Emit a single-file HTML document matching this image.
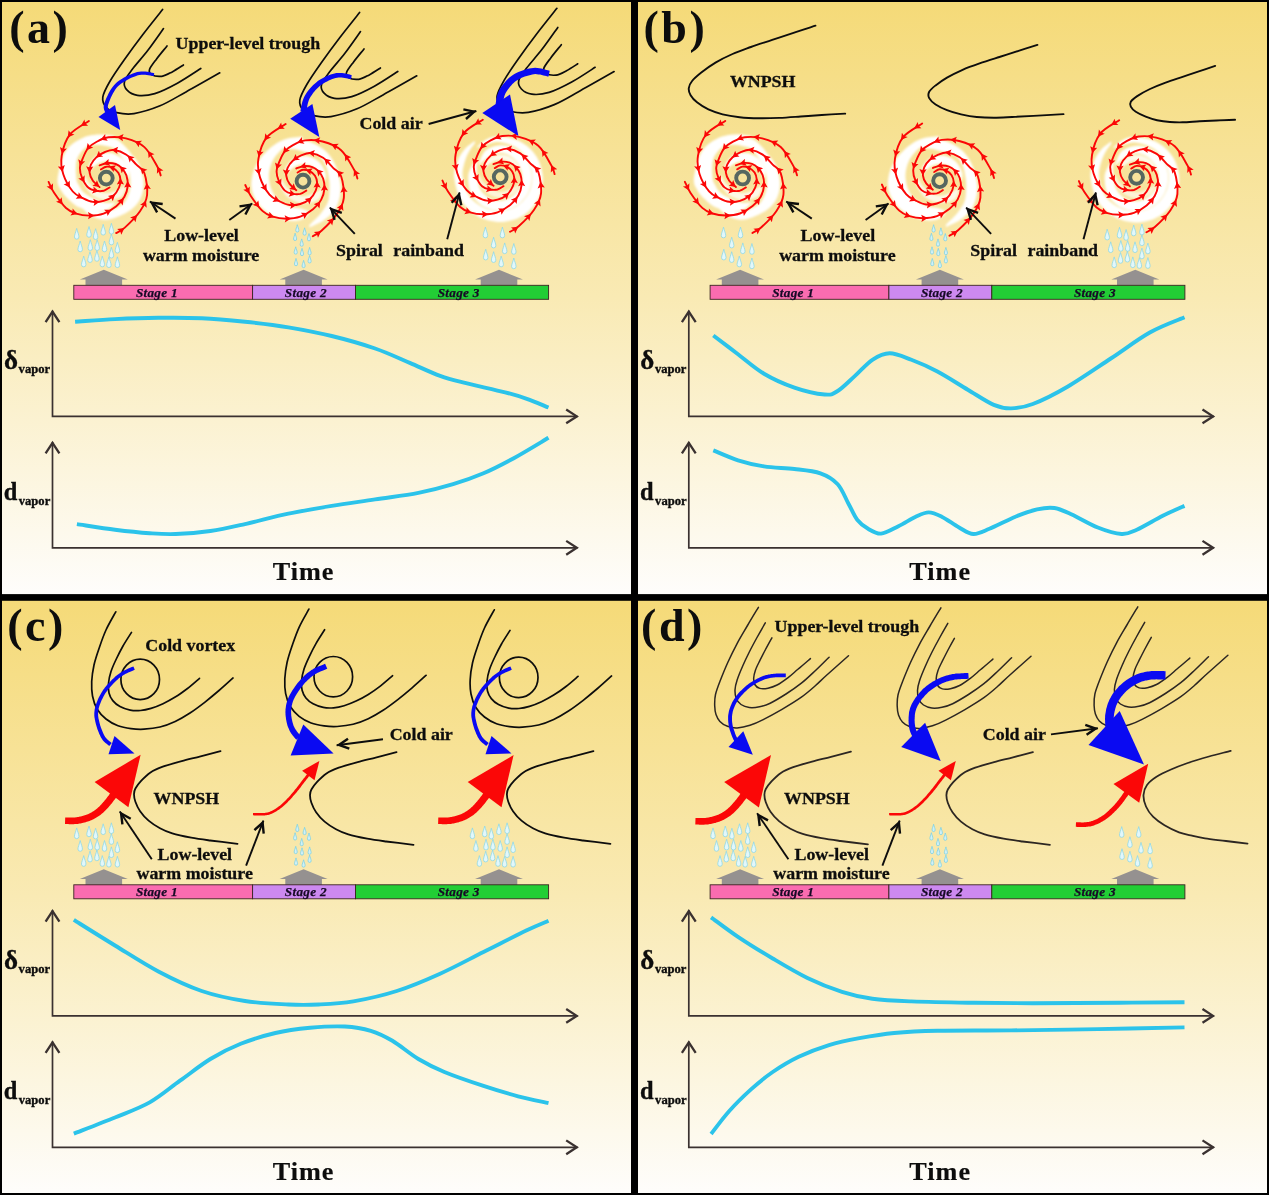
<!DOCTYPE html>
<html lang="en"><head><meta charset="utf-8"><title>Vapor isotope conceptual model</title>
<style>
html,body{margin:0;padding:0;background:#000;}
svg{display:block;font-family:'Liberation Serif',serif;font-weight:bold;}
</style></head><body>
<svg width="1269" height="1195" viewBox="0 0 1269 1195">
<defs>
<linearGradient id="bg" x1="0" y1="0" x2="0" y2="1"><stop offset="0" stop-color="#f5da78"/><stop offset="0.5" stop-color="#f9eab4"/><stop offset="1" stop-color="#fefdfb"/></linearGradient>
<filter id="soft" x="-20%" y="-20%" width="140%" height="140%"><feGaussianBlur stdDeviation="0.9"/></filter>
<path id="drop" d="M0,-8C0.8,-4.4 2.25,-1.6 2.25,0.5A2.25,2.25 0 1 1 -2.25,0.5C-2.25,-1.6 -0.8,-4.4 0,-8Z" fill="#e2f7fb" stroke="#8fd8e6" stroke-width="0.8"/>
<path id="dropS" d="M0,-5.4C0.55,-3 1.55,-1.1 1.55,0.4A1.55,1.55 0 1 1 -1.55,0.4C-1.55,-1.1 -0.55,-3 0,-5.4Z" fill="#d0f0f7" stroke="#7fd2e3" stroke-width="0.8"/>
<path id="house" d="M0,0L24,9.8H18.3V15.6H-18.3V9.8H-24Z" fill="#959190"/>
</defs>
<rect width="1269" height="1195" fill="#000"/>
<rect x="2" y="2" width="629" height="592.1" fill="url(#bg)"/>
<rect x="638" y="2" width="629" height="592.1" fill="url(#bg)"/>
<rect x="2" y="600.8" width="629" height="592.2" fill="url(#bg)"/>
<rect x="638" y="600.8" width="629" height="592.2" fill="url(#bg)"/>
<defs><g id="tyarms"><path d="M9.8,55C11.2,54.1 14.5,53.1 18.5,49.5C22.5,45.9 30,38.6 33.7,33.2C37.4,27.8 40.1,23.2 40.8,16.9C41.5,10.5 39.9,0.1 38.1,-4.9C36.3,-9.9 33.1,-10.3 30.1,-13.4C27.1,-16.5 23.8,-20.9 20.1,-23.4C16.4,-25.8 11.6,-27.7 8,-28.1C4.4,-28.6 1.7,-27.3 -1.3,-26.1C-4.3,-24.9 -7.7,-22.8 -10,-20.7C-12.3,-18.6 -14.3,-15.9 -15.4,-13.4C-16.5,-10.9 -17,-8.1 -16.7,-5.4C-16.4,-2.7 -15.1,0.3 -13.4,2.7C-11.7,5.1 -7.8,8 -6.7,9 M54.4,-2.7C53.9,-4.2 53.8,-6.7 51.1,-11.4C48.4,-16.1 43.4,-26.3 38.1,-31C32.9,-35.7 25.6,-38.1 19.6,-39.7C13.6,-41.3 7.1,-41.4 2.2,-40.8C-2.7,-40.2 -6.6,-37.9 -10,-36.1C-13.4,-34.3 -15.9,-32.8 -18.1,-30.1C-20.3,-27.4 -22,-23.5 -23.4,-20.1C-24.8,-16.8 -26.3,-13.3 -26.4,-10C-26.5,-6.7 -25.5,-3.2 -24.1,0C-22.7,3.2 -20.5,7.3 -18.1,9.4C-15.8,11.5 -12.6,12.1 -10,12.7C-7.4,13.2 -4.9,13.2 -2.7,12.7C-0.5,12.1 2.3,9.9 3.3,9.4 M-17.4,-57.1C-20.6,-54.8 -32,-49.3 -36.5,-43.5C-41,-37.7 -43.5,-28.9 -44.6,-22.3C-45.7,-15.7 -44.9,-9.8 -43,-3.8C-41.1,2.2 -36.8,9.4 -33.5,13.4C-30.2,17.4 -26.8,18.4 -23.4,20.1C-20,21.8 -16.9,23.4 -13.4,23.8C-10,24.2 -6.1,23.8 -2.7,22.8C0.6,21.9 4.1,20.3 6.7,18.1C9.3,15.9 11.5,12.2 12.7,9.4C13.9,6.6 14.2,3.8 14.1,1.3C14,-1.2 13.2,-3.5 12,-5.4C10.8,-7.3 8.7,-9 6.7,-10C4.7,-11 2,-11.6 0,-11.4C-2,-11.2 -4.5,-9.1 -5.4,-8.7 M-57.7,3.8C-56.8,5.6 -55.1,10.3 -52.2,14.7C-49.3,19 -44,26.4 -40.3,29.9C-36.6,33.4 -34,34.2 -30.1,35.5C-26.2,36.8 -21.3,37.5 -16.7,37.5C-12.1,37.5 -7.2,37.1 -2.7,35.5C1.8,33.9 6.5,30.9 10,28.1C13.5,25.3 16.2,22.1 18.1,18.7C20,15.3 21.1,11.6 21.4,8C21.7,4.4 21.1,0.3 20.1,-2.7C19.1,-5.7 17.2,-8.1 15.4,-10C13.6,-11.9 11.8,-13.2 9.4,-14.1C7.1,-14.9 4,-15.3 1.3,-15.1C-1.4,-14.9 -5.4,-13.1 -6.7,-12.7" fill="none" stroke="#fb0707" stroke-width="1.9" stroke-linecap="round"/><path d="M18.1,50 L15,56.6 L13.9,53.1 L10.8,50.8 ZM30.8,37 L29.2,44.2 L27.3,40.9 L23.8,39.4 ZM39.7,22.4 L40.4,29.7 L37.6,27.2 L33.8,26.8 ZM40.4,4.8 L44.6,10.8 L40.9,10.1 L37.4,11.6 ZM34.1,-10.6 L41.1,-8.4 L37.7,-6.8 L35.9,-3.5 ZM21.2,-22.8 L28.3,-20.9 L25,-19.1 L23.4,-15.7 ZM5.2,-28.4 L11.9,-31.3 L10.4,-27.9 L11.2,-24.2 ZM-10.3,-20.6 L-7.4,-27.3 L-6.1,-23.7 L-3.1,-21.5 ZM-16.9,-5.2 L-20.2,-11.8 L-16.7,-10.5 L-13,-11.5 ZM-6.7,9 L-13.9,7.7 L-10.8,5.6 L-9.4,2.1 Z M51,-11.7 L57.1,-7.5 L53.3,-7 L50.6,-4.4 ZM41.7,-27.1 L48.2,-23.9 L44.6,-22.8 L42.3,-19.8 ZM28.3,-36.9 L35.7,-37.4 L33.1,-34.6 L32.5,-30.9 ZM10.6,-41.2 L17.3,-44 L15.8,-40.6 L16.6,-36.9 ZM-5.8,-38.4 L-1.1,-44.1 L-0.9,-40.3 L1.5,-37.4 ZM-19.9,-27.9 L-18.7,-35.1 L-16.6,-32 L-13.1,-30.6 ZM-26.4,-11.7 L-28,-18.8 L-24.9,-16.7 L-21.1,-16.8 ZM-21.9,4.5 L-28,0.4 L-24.3,-0.2 L-21.6,-2.8 ZM-7.4,13.2 L-14.3,15.5 L-12.5,12.2 L-12.9,8.4 Z M-25.5,-52.2 L-21.9,-58.6 L-21,-54.9 L-18.2,-52.4 ZM-38.6,-40.6 L-37.7,-47.9 L-35.5,-44.8 L-31.9,-43.6 ZM-44.3,-24.1 L-46.4,-31.1 L-43.1,-29.2 L-39.4,-29.5 ZM-43.7,-6.1 L-48.5,-11.7 L-44.8,-11.3 L-41.5,-13.1 ZM-36.3,9.7 L-42.7,6.1 L-39,5.2 L-36.6,2.3 ZM-23.3,20.1 L-30.6,20.7 L-28.1,17.9 L-27.6,14.1 ZM-6.5,23.7 L-12.7,27.8 L-11.7,24.1 L-13.1,20.6 ZM8.8,16.2 L6.5,23.2 L4.9,19.7 L1.6,17.8 ZM14.1,0 L17.7,6.5 L14.1,5.3 L10.5,6.4 ZM2.6,-11.5 L9.8,-12.9 L7.6,-9.9 L7.5,-6.1 Z M-53.6,12.6 L-59.7,8.5 L-55.9,7.9 L-53.2,5.2 ZM-43.6,26.4 L-50.3,23.6 L-46.8,22.3 L-44.7,19.2 ZM-28.7,36 L-35.9,37.4 L-33.7,34.3 L-33.7,30.5 ZM-11.9,37.4 L-18.2,41.2 L-17.1,37.5 L-18.4,34 ZM5.1,31.7 L1.3,37.9 L0.5,34.2 L-2.2,31.6 ZM17.4,20 L16.4,27.3 L14.2,24.2 L10.7,23 ZM21.4,3 L25.1,9.4 L21.5,8.3 L17.9,9.5 ZM13.5,-11.9 L20.6,-9.8 L17.2,-8.1 L15.4,-4.8 ZM-3,-14.1 L2.3,-19.2 L2.1,-15.4 L4.1,-12.2 Z" fill="#fb0707" stroke="none"/><circle r="6.4" fill="none" stroke="#566760" stroke-width="3.9"/></g></defs>
<text x="9.2" y="42.5" font-size="46" fill="#0d0d0d" letter-spacing="2.5">(a)</text>
<use href="#drop" x="76.7" y="236.4"/>
<use href="#drop" x="89" y="234.5"/>
<use href="#drop" x="95.6" y="236.7"/>
<use href="#drop" x="103.2" y="232.3"/>
<use href="#drop" x="111.4" y="231.3"/>
<use href="#drop" x="111.4" y="242.1"/>
<use href="#drop" x="80.2" y="249"/>
<use href="#drop" x="90.3" y="247.7"/>
<use href="#drop" x="97.2" y="247.7"/>
<use href="#drop" x="104.5" y="249"/>
<use href="#drop" x="117.4" y="250.3"/>
<use href="#drop" x="111.4" y="255.3"/>
<use href="#drop" x="83.7" y="264.1"/>
<use href="#drop" x="90" y="259.7"/>
<use href="#drop" x="96.9" y="258.5"/>
<use href="#drop" x="102.3" y="264.1"/>
<use href="#drop" x="108.9" y="264.8"/>
<use href="#drop" x="117.4" y="264.8"/>
<use href="#house" x="103.8" y="269.8"/>
<use href="#dropS" x="297.3" y="230.1"/>
<use href="#dropS" x="304.6" y="233.2"/>
<use href="#dropS" x="309" y="238.9"/>
<use href="#dropS" x="295.1" y="238.6"/>
<use href="#dropS" x="301.7" y="244.3"/>
<use href="#dropS" x="295.7" y="252.2"/>
<use href="#dropS" x="302" y="253.7"/>
<use href="#dropS" x="309.6" y="252.8"/>
<use href="#dropS" x="309.6" y="261"/>
<use href="#dropS" x="296" y="263.8"/>
<use href="#dropS" x="303.6" y="265.7"/>
<use href="#house" x="303.6" y="269.8"/>
<use href="#drop" x="485.4" y="235.1"/>
<use href="#drop" x="502.4" y="235.1"/>
<use href="#drop" x="493.6" y="245.2"/>
<use href="#drop" x="504.7" y="250.9"/>
<use href="#drop" x="513.8" y="251.5"/>
<use href="#drop" x="485.7" y="257.2"/>
<use href="#drop" x="493.6" y="259.7"/>
<use href="#drop" x="501.2" y="264.1"/>
<use href="#drop" x="513.8" y="266"/>
<use href="#house" x="499" y="269.8"/>
<rect x="73.8" y="285.3" width="178.8" height="14" fill="#fa6cb0" stroke="#3a2420" stroke-width="0.9"/>
<text x="156.9" y="296.5" font-size="13.2" text-anchor="middle" font-style="italic" fill="#170a26" stroke="#170a26" stroke-width="0.25" letter-spacing="0.3">Stage 1</text>
<rect x="252.6" y="285.3" width="102.9" height="14" fill="#cd89f0" stroke="#3a2420" stroke-width="0.9"/>
<text x="305.8" y="296.5" font-size="13.2" text-anchor="middle" font-style="italic" fill="#170a26" stroke="#170a26" stroke-width="0.25" letter-spacing="0.3">Stage 2</text>
<rect x="355.5" y="285.3" width="193.1" height="14" fill="#22ce35" stroke="#3a2420" stroke-width="0.9"/>
<text x="458.7" y="296.5" font-size="13.2" text-anchor="middle" font-style="italic" fill="#170a26" stroke="#170a26" stroke-width="0.25" letter-spacing="0.3">Stage 3</text>
<path d="M52.5,310.7 V416.4 H577.5" fill="none" stroke="#3a3130" stroke-width="1.7"/>
<path d="M59.4,322.1 L52.5,311.5 L45.6,322.1" fill="none" stroke="#3a3130" stroke-width="2.3" stroke-linejoin="miter" stroke-linecap="butt"/>
<path d="M566.2,423.3 L576.8,416.4 L566.2,409.5" fill="none" stroke="#3a3130" stroke-width="2.3" stroke-linejoin="miter" stroke-linecap="butt"/>
<path d="M52.5,442 V547.8 H577.5" fill="none" stroke="#3a3130" stroke-width="1.7"/>
<path d="M59.4,453.4 L52.5,442.8 L45.6,453.4" fill="none" stroke="#3a3130" stroke-width="2.3" stroke-linejoin="miter" stroke-linecap="butt"/>
<path d="M566.2,554.7 L576.8,547.8 L566.2,540.9" fill="none" stroke="#3a3130" stroke-width="2.3" stroke-linejoin="miter" stroke-linecap="butt"/>
<text x="4" y="369" font-size="27" fill="#0d0d0d" stroke="#0d0d0d" stroke-width="0.35">δ<tspan font-size="12.6" dy="4.4" dx="0.6">vapor</tspan></text>
<text x="3.7" y="499.8" font-size="24.4" fill="#0d0d0d" stroke="#0d0d0d" stroke-width="0.35">d<tspan font-size="12.6" dy="4.8" dx="1.5">vapor</tspan></text>
<text x="303.5" y="580.3" font-size="26.2" text-anchor="middle" letter-spacing="1.0" fill="#0d0d0d" stroke="#0d0d0d" stroke-width="0.2">Time</text>
<path d="M162.6,9.5C159.3,13.7 149.2,26.2 142.7,34.7C136.2,43.2 129.1,52.9 123.6,60.7C118.1,68.5 113.3,75.4 109.8,81.5C106.3,87.6 103.4,92.8 102.8,97.1C102.2,101.4 104,104.9 106.3,107.5C108.6,110.1 112.1,111.7 116.7,112.7C121.3,113.7 126.8,114.8 134,113.6C141.2,112.4 151.3,109.4 160,105.8C168.7,102.2 176,97.4 186,91.9C196,86.4 214.2,76 219.8,72.8" fill="none" stroke="#0d0d0d" stroke-width="1.7" stroke-linecap="round"/>
<path d="M163.5,28.6C160.9,32.2 153.1,43.5 147.9,50.3C142.7,57.1 136.2,64.1 132.3,69.3C128.4,74.5 125.4,78 124.5,81.5C123.6,85 124.9,87.9 127.1,90.2C129.3,92.5 132.9,94.8 137.5,95.4C142.1,96 148.2,95.6 154.8,93.6C161.5,91.6 169.7,87.4 177.4,83.2C185.1,79 196.9,71 200.8,68.5" fill="none" stroke="#0d0d0d" stroke-width="1.7" stroke-linecap="round"/>
<path d="M167,45.9C165.3,48.1 159.5,55 156.6,58.9C153.7,62.8 150.5,66.7 149.6,69.3C148.7,71.9 149.4,73.3 151.4,74.5C153.4,75.7 158.3,76.7 161.8,76.3C165.3,75.9 168.6,73.8 172.2,71.9C175.8,70 181.5,66.2 183.4,65" fill="none" stroke="#0d0d0d" stroke-width="1.7" stroke-linecap="round"/>
<path d="M359.6,12.5C356.3,16.7 346.2,29.2 339.7,37.7C333.2,46.2 326.1,55.9 320.6,63.7C315.1,71.5 310.3,78.4 306.8,84.5C303.3,90.6 300.4,95.8 299.8,100.1C299.2,104.4 301,107.9 303.3,110.5C305.6,113.1 309.1,114.7 313.7,115.7C318.3,116.7 323.8,117.8 331,116.6C338.2,115.4 348.3,112.4 357,108.8C365.7,105.2 373,100.4 383,94.9C393,89.4 411.2,79 416.8,75.8" fill="none" stroke="#0d0d0d" stroke-width="1.7" stroke-linecap="round"/>
<path d="M360.5,31.6C357.9,35.2 350.1,46.5 344.9,53.3C339.7,60.1 333.2,67.1 329.3,72.3C325.4,77.5 322.4,81 321.5,84.5C320.6,88 321.9,90.9 324.1,93.2C326.3,95.5 329.9,97.8 334.5,98.4C339.1,99 345.2,98.6 351.8,96.6C358.4,94.6 366.7,90.4 374.4,86.2C382.1,82 393.9,74 397.8,71.5" fill="none" stroke="#0d0d0d" stroke-width="1.7" stroke-linecap="round"/>
<path d="M364,48.9C362.3,51.1 356.5,58 353.6,61.9C350.7,65.8 347.5,69.7 346.6,72.3C345.7,74.9 346.4,76.3 348.4,77.5C350.4,78.7 355.3,79.7 358.8,79.3C362.3,78.9 365.6,76.8 369.2,74.9C372.8,73 378.5,69.2 380.4,68" fill="none" stroke="#0d0d0d" stroke-width="1.7" stroke-linecap="round"/>
<path d="M556.9,8.3C553.6,12.5 543.5,25 537,33.5C530.5,42 523.4,51.7 517.9,59.5C512.4,67.3 507.6,74.2 504.1,80.3C500.6,86.4 497.7,91.6 497.1,95.9C496.5,100.2 498.3,103.7 500.6,106.3C502.9,108.9 506.4,110.5 511,111.5C515.6,112.5 521.1,113.5 528.3,112.4C535.5,111.2 545.6,108.2 554.3,104.6C563,101 570.3,96.2 580.3,90.7C590.3,85.2 608.5,74.8 614.1,71.6" fill="none" stroke="#0d0d0d" stroke-width="1.7" stroke-linecap="round"/>
<path d="M557.8,27.4C555.2,31 547.4,42.3 542.2,49.1C537,55.9 530.5,62.9 526.6,68.1C522.7,73.3 519.7,76.8 518.8,80.3C517.9,83.8 519.2,86.7 521.4,89C523.6,91.3 527.2,93.6 531.8,94.2C536.4,94.8 542.5,94.4 549.1,92.4C555.8,90.4 564,86.2 571.7,82C579.4,77.8 591.2,69.8 595.1,67.3" fill="none" stroke="#0d0d0d" stroke-width="1.7" stroke-linecap="round"/>
<path d="M561.3,44.7C559.6,46.9 553.8,53.8 550.9,57.7C548,61.6 544.8,65.5 543.9,68.1C543,70.7 543.7,72.1 545.7,73.3C547.7,74.5 552.6,75.5 556.1,75.1C559.6,74.7 562.9,72.6 566.5,70.7C570.1,68.8 575.8,65 577.7,63.8" fill="none" stroke="#0d0d0d" stroke-width="1.7" stroke-linecap="round"/>
<g transform="translate(106.3,178.1)">
<g filter="url(#soft)">
<path d="M8.9,-42.1 L7.7,-42.2 L6,-42.5 L3.9,-42.8 L1.7,-43.1 L-0.7,-43.4 L-3.1,-43.6 L-5.5,-43.7 L-7.7,-43.6 L-9.8,-43.5 L-12,-43.2 L-14.1,-43 L-16.3,-42.6 L-18.4,-42.1 L-20.6,-41.5 L-22.7,-40.7 L-24.8,-39.7 L-26.9,-38.6 L-29.1,-37.4 L-31.3,-36 L-33.4,-34.5 L-35.5,-32.8 L-37.4,-31 L-39.2,-28.9 L-40.8,-26.5 L-42.3,-23.7 L-43.6,-20.5 L-44.9,-16.9 L-46,-13.2 L-46.9,-9.5 L-47.7,-5.9 L-48.3,-2.7 L-48.7,0 L-48.8,2.2 L-48.7,4.1 L-48.4,5.7 L-48,7.1 L-47.4,8.4 L-46.7,9.6 L-46,10.8 L-45.3,12.1 L-44.6,13.5 L-43.7,14.7 L-42.9,15.9 L-41.9,17.1 L-40.9,18.2 L-39.8,19.4 L-38.6,20.5 L-37.4,21.6 L-36.2,22.7 L-34.9,23.9 L-33.6,25.1 L-32.2,26.2 L-30.7,27.3 L-29.1,28.3 L-27.2,29.2 L-25.2,30 L-22.8,30.7 L-20.1,31.4 L-17.1,32 L-14,32.5 L-10.9,32.8 L-8,33.1 L-5.2,33.1 L-2.9,32.9 L-0.8,32.3 L1.1,31.5 L2.9,30.3 L4.5,29.1 L5.9,27.8 L7.2,26.6 L8.2,25.6 L9.1,24.9 L8.9,24.4 L8.1,24.5 L7,24.6 L5.7,24.7 L4.2,24.8 L2.7,24.9 L1.1,24.9 L-0.6,24.8 L-2.1,24.5 L-3.8,24.1 L-5.5,23.5 L-7.3,22.8 L-9.2,22 L-11,21.2 L-12.8,20.4 L-14.4,19.6 L-15.8,18.8 L-17.1,18.2 L-18.2,17.5 L-19.3,16.9 L-20.2,16.2 L-21.1,15.6 L-21.9,14.9 L-22.7,14.2 L-23.4,13.5 L-24.1,12.8 L-24.7,12 L-25.2,11.3 L-25.7,10.5 L-26.1,9.8 L-26.5,9 L-26.9,8.2 L-27.3,7.3 L-27.8,6.5 L-28.2,5.8 L-28.6,5.2 L-29,4.5 L-29.3,3.7 L-29.6,2.7 L-29.8,1.5 L-30,0 L-30.1,-1.9 L-30.3,-4.1 L-30.4,-6.6 L-30.4,-9.2 L-30.3,-11.9 L-30.2,-14.4 L-29.8,-16.9 L-29.3,-19 L-28.5,-20.9 L-27.6,-22.7 L-26.4,-24.4 L-25.2,-26 L-23.9,-27.5 L-22.5,-28.9 L-21,-30.2 L-19.6,-31.4 L-18.2,-32.4 L-16.6,-33.3 L-15.1,-34.1 L-13.4,-34.7 L-11.8,-35.4 L-10.1,-35.9 L-8.3,-36.5 L-6.5,-37.1 L-4.6,-37.8 L-2.5,-38.4 L-0.3,-39.1 L2,-39.7 L4.1,-40.3 L6,-40.8 L7.6,-41.2 L8.8,-41.6Z" fill="#fff"/>
<path d="M-17.8,-33.6 L-17.3,-34 L-16.6,-34.6 L-15.7,-35.3 L-14.7,-36 L-13.7,-36.8 L-12.6,-37.5 L-11.5,-38.2 L-10.4,-38.6 L-9.2,-39 L-8,-39.3 L-6.7,-39.5 L-5.4,-39.6 L-4,-39.7 L-2.7,-39.8 L-1.3,-39.8 L0,-39.8 L1.3,-39.8 L2.6,-39.8 L4,-39.8 L5.3,-39.7 L6.6,-39.6 L7.9,-39.4 L9.2,-39.1 L10.4,-38.6 L11.5,-38.1 L12.6,-37.4 L13.7,-36.6 L14.7,-35.7 L15.7,-34.8 L16.7,-33.9 L17.6,-32.9 L18.5,-32 L19.3,-31.2 L20.1,-30.4 L20.8,-29.5 L21.5,-28.7 L22.2,-27.8 L22.9,-26.8 L23.7,-25.8 L24.6,-24.6 L25.6,-23.3 L26.7,-22 L27.9,-20.6 L29.2,-19.1 L30.4,-17.5 L31.5,-15.8 L32.6,-14.1 L33.5,-12.2 L34.2,-10.1 L35,-7.9 L35.6,-5.5 L36.2,-3 L36.7,-0.6 L37.1,1.9 L37.3,4.3 L37.3,6.6 L37.2,8.8 L37,10.9 L36.6,13.1 L36.1,15.2 L35.4,17.3 L34.7,19.2 L33.8,21.1 L32.8,22.9 L31.6,24.7 L30.3,26.3 L28.9,27.9 L27.3,29.4 L25.7,30.8 L23.9,32.2 L22,33.4 L20,34.6 L17.8,35.8 L15.4,37 L12.8,38.1 L10.2,39.2 L7.5,40.1 L4.9,40.9 L2.3,41.4 L0,41.7 L-2.2,41.7 L-4.4,41.5 L-6.5,41 L-8.5,40.4 L-10.5,39.7 L-12.4,38.9 L-14.1,38 L-15.8,37.2 L-17.4,36.2 L-18.9,35.1 L-20.3,33.8 L-21.7,32.5 L-22.9,31.2 L-23.9,30.1 L-24.8,29.1 L-25.6,28.4 L-25.1,27.9 L-24.2,28.2 L-23.1,28.7 L-21.7,29.2 L-20.2,29.8 L-18.5,30.4 L-16.9,31 L-15.2,31.5 L-13.6,31.9 L-12,32.3 L-10.4,32.7 L-8.7,33.1 L-7,33.5 L-5.3,33.8 L-3.6,33.9 L-1.8,33.9 L0,33.7 L1.9,33.3 L3.9,32.7 L6,31.9 L8.2,31.1 L10.2,30.1 L12.2,29.1 L14,28 L15.5,26.8 L16.8,25.7 L18,24.4 L19,23 L19.9,21.6 L20.7,20.1 L21.4,18.7 L22,17.2 L22.5,15.8 L23,14.4 L23.4,12.9 L23.7,11.5 L23.9,10.1 L24,8.7 L24.1,7.2 L24.1,5.7 L24.1,4.3 L24.1,2.7 L24,1.1 L23.9,-0.5 L23.7,-2.1 L23.5,-3.7 L23.3,-5.3 L22.9,-6.8 L22.6,-8.2 L22.1,-9.6 L21.5,-10.9 L20.9,-12.1 L20.3,-13.4 L19.6,-14.5 L18.9,-15.6 L18.3,-16.7 L17.7,-17.7 L17.1,-18.6 L16.6,-19.4 L16.1,-20.1 L15.6,-20.7 L15.1,-21.4 L14.6,-22 L14.1,-22.7 L13.5,-23.4 L12.9,-24.1 L12.3,-25 L11.6,-25.8 L10.9,-26.6 L10.2,-27.4 L9.5,-28.2 L8.7,-28.9 L7.9,-29.5 L7,-30 L6.1,-30.4 L5.1,-30.7 L4.2,-31 L3.1,-31.3 L2.1,-31.5 L1.1,-31.8 L0,-32 L-1.1,-32.2 L-2.2,-32.5 L-3.3,-32.7 L-4.4,-32.9 L-5.6,-33 L-6.7,-33.2 L-7.8,-33.3 L-8.9,-33.3 L-10.1,-33.3 L-11.3,-33.3 L-12.5,-33.2 L-13.7,-33.1 L-14.8,-33 L-15.9,-32.8 L-16.7,-32.7 L-17.4,-32.7Z" fill="#fff"/>
<path d="M-17.4,-6.3 L-17.4,-6.9 L-17.5,-7.7 L-17.6,-8.6 L-17.6,-9.7 L-17.7,-10.8 L-17.6,-11.9 L-17.3,-13.1 L-16.9,-14.1 L-16.2,-15.2 L-15.4,-16.4 L-14.4,-17.7 L-13.4,-18.9 L-12.2,-20.1 L-11,-21.3 L-9.7,-22.2 L-8.4,-23 L-7,-23.7 L-5.5,-24.2 L-3.8,-24.7 L-2.2,-25 L-0.5,-25.2 L1.2,-25.3 L2.9,-25.3 L4.4,-25.1 L6,-24.8 L7.5,-24.3 L9.1,-23.7 L10.6,-22.9 L12.1,-22.1 L13.5,-21.2 L14.9,-20.2 L16.1,-19.2 L17.2,-18 L18.2,-16.7 L19.2,-15.3 L20.1,-13.8 L20.9,-12.3 L21.5,-10.9 L22.1,-9.5 L22.6,-8.2 L22.8,-7 L22.9,-5.8 L22.8,-4.6 L22.7,-3.4 L22.5,-2.4 L22.3,-1.4 L22.1,-0.6 L22,0 L21,0 L20.8,-0.5 L20.5,-1.2 L20.2,-1.9 L19.8,-2.8 L19.4,-3.7 L19,-4.7 L18.4,-5.6 L17.9,-6.5 L17.2,-7.4 L16.5,-8.3 L15.7,-9.2 L14.9,-10.1 L14,-11.1 L13.1,-11.9 L12.2,-12.7 L11.2,-13.4 L10.3,-14 L9.3,-14.6 L8.3,-15.1 L7.2,-15.6 L6.2,-16 L5.1,-16.3 L4,-16.6 L3,-16.7 L1.9,-16.8 L0.8,-16.8 L-0.3,-16.8 L-1.4,-16.6 L-2.5,-16.4 L-3.6,-16.2 L-4.6,-15.9 L-5.6,-15.5 L-6.6,-15.1 L-7.7,-14.6 L-8.7,-14 L-9.6,-13.4 L-10.6,-12.8 L-11.5,-12.2 L-12.3,-11.5 L-13,-10.9 L-13.7,-10.3 L-14.3,-9.6 L-14.9,-8.9 L-15.4,-8.3 L-15.9,-7.6 L-16.3,-7 L-16.6,-6.5 L-16.9,-6.2Z" fill="#fff"/>
<path d="M19.7,7.2 L19.5,8.1 L19.2,9.4 L18.9,10.9 L18.5,12.6 L18,14.2 L17.4,15.9 L16.5,17.3 L15.4,18.4 L14,19.3 L12.3,20 L10.4,20.7 L8.3,21.2 L6.2,21.6 L4,21.9 L1.9,22 L0,22 L-1.9,21.8 L-3.8,21.5 L-5.7,21 L-7.5,20.3 L-9.3,19.6 L-11.1,18.7 L-12.7,17.8 L-14.1,16.9 L-15.5,15.7 L-16.8,14.5 L-17.9,13.1 L-19,11.6 L-20,10.1 L-20.9,8.6 L-21.6,7.2 L-22.2,6 L-22.7,4.8 L-22.9,3.6 L-23,2.4 L-23.1,1.3 L-23,0.3 L-23,-0.6 L-22.9,-1.4 L-22.9,-2 L-20.9,-1.8 L-20.7,-1.3 L-20.4,-0.7 L-20,0.1 L-19.6,1 L-19.2,1.9 L-18.6,2.9 L-18.1,3.8 L-17.4,4.7 L-16.6,5.5 L-15.8,6.4 L-14.9,7.3 L-13.9,8.3 L-12.9,9.2 L-11.8,10 L-10.7,10.8 L-9.6,11.5 L-8.5,12.1 L-7.4,12.7 L-6.2,13.3 L-5,13.8 L-3.7,14.3 L-2.5,14.6 L-1.2,14.9 L0,15 L1.3,15 L2.6,14.8 L3.9,14.5 L5.2,14.2 L6.5,13.7 L7.8,13.3 L9.1,12.8 L10.3,12.3 L11.5,11.7 L12.8,11 L14.1,10.2 L15.4,9.5 L16.6,8.7 L17.7,8 L18.6,7.4 L19.3,7Z" fill="#fff" fill-opacity="0.75"/>
</g>
<use href="#tyarms"/>
</g>
<g transform="translate(303,181.2)">
<g filter="url(#soft)">
<path d="M-0.8,-44.6 L-2.2,-44.4 L-4.2,-44.2 L-6.5,-44 L-9,-43.8 L-11.7,-43.4 L-14.4,-42.9 L-17,-42.3 L-19.4,-41.5 L-21.6,-40.5 L-23.8,-39.4 L-26,-38.1 L-28.1,-36.7 L-30.3,-35.2 L-32.3,-33.6 L-34.2,-32 L-36.1,-30.3 L-37.8,-28.5 L-39.6,-26.6 L-41.2,-24.7 L-42.8,-22.6 L-44.2,-20.5 L-45.6,-18.4 L-46.8,-16.3 L-47.8,-14.2 L-48.8,-12 L-49.6,-9.8 L-50.3,-7.6 L-50.8,-5.3 L-51.2,-3 L-51.5,-0.8 L-51.7,1.5 L-51.7,3.6 L-51.5,5.7 L-51.2,7.9 L-50.8,10 L-50.2,12 L-49.5,14.1 L-48.7,16 L-47.7,18 L-46.7,19.8 L-45.5,21.6 L-44.1,23.4 L-42.6,25.1 L-41,26.8 L-39.2,28.4 L-37.5,29.9 L-35.6,31.3 L-33.7,32.6 L-31.8,33.7 L-29.6,34.8 L-27.4,35.7 L-25.2,36.6 L-22.9,37.4 L-20.7,38 L-18.5,38.6 L-16.6,39 L-14.7,39.4 L-12.9,39.6 L-11.1,39.7 L-9.5,39.8 L-7.9,39.7 L-6.3,39.6 L-4.8,39.3 L-3.4,39.1 L-2.1,38.6 L-0.7,38 L0.6,37.2 L1.8,36.4 L2.9,35.6 L3.9,34.9 L4.7,34.2 L5.4,33.8 L4.7,29.6 L4.2,29.4 L3.5,29.2 L2.6,28.9 L1.7,28.5 L0.7,28.2 L-0.3,27.9 L-1.4,27.6 L-2.4,27.3 L-3.4,27.1 L-4.4,27 L-5.4,26.9 L-6.5,26.8 L-7.6,26.7 L-8.7,26.6 L-9.9,26.4 L-11.1,26.1 L-12.3,25.6 L-13.7,25.1 L-15.1,24.6 L-16.5,24 L-17.9,23.3 L-19.3,22.6 L-20.6,21.9 L-21.8,21 L-22.9,20.2 L-24,19.2 L-25.1,18.2 L-26.1,17.1 L-27,16 L-27.9,14.8 L-28.7,13.7 L-29.5,12.5 L-30.1,11.3 L-30.8,10.1 L-31.3,8.9 L-31.8,7.7 L-32.3,6.4 L-32.7,5.1 L-33,3.7 L-33.3,2.3 L-33.6,0.9 L-33.8,-0.6 L-34,-2.1 L-34.1,-3.6 L-34.1,-5.2 L-34.1,-6.7 L-33.9,-8.3 L-33.7,-10 L-33.3,-11.6 L-32.9,-13.4 L-32.4,-15.1 L-31.8,-16.9 L-31.1,-18.7 L-30.3,-20.5 L-29.4,-22.2 L-28.3,-23.8 L-27.2,-25.4 L-25.9,-27 L-24.5,-28.5 L-23,-30.1 L-21.5,-31.5 L-19.8,-32.9 L-18.2,-34.1 L-16.4,-35.3 L-14.5,-36.2 L-12.4,-37.1 L-10.1,-37.9 L-7.8,-38.5 L-5.6,-39.1 L-3.6,-39.6 L-1.9,-40 L-0.7,-40.4Z" fill="#fff"/>
<path d="M-19.2,-33.3 L-18.6,-33.8 L-17.8,-34.5 L-16.8,-35.3 L-15.7,-36.1 L-14.4,-37 L-13.2,-37.8 L-11.8,-38.6 L-10.5,-39.1 L-9.1,-39.6 L-7.7,-40.1 L-6.2,-40.5 L-4.7,-40.8 L-3.1,-41.1 L-1.4,-41.2 L0.3,-41.1 L2.1,-40.8 L4.1,-40.3 L6.2,-39.6 L8.4,-38.7 L10.7,-37.7 L12.9,-36.6 L15.1,-35.4 L17.2,-34.1 L19,-32.9 L20.7,-31.7 L22.2,-30.4 L23.6,-29.1 L25,-27.7 L26.2,-26.3 L27.4,-24.8 L28.5,-23.2 L29.6,-21.5 L30.6,-19.7 L31.6,-17.7 L32.5,-15.7 L33.3,-13.6 L34.1,-11.4 L34.8,-9.2 L35.4,-7.1 L35.9,-5.1 L36.4,-3 L36.8,-1.1 L37.2,0.9 L37.5,2.9 L37.7,4.8 L37.8,6.8 L37.7,8.8 L37.6,10.8 L37.3,12.8 L37,15 L36.5,17.1 L35.9,19.3 L35.2,21.4 L34.4,23.5 L33.6,25.5 L32.6,27.3 L31.4,29.1 L30.1,30.7 L28.8,32.3 L27.3,33.8 L25.7,35.2 L24.1,36.6 L22.4,37.9 L20.8,39.1 L19,40.3 L17.1,41.4 L15,42.4 L12.9,43.4 L10.9,44.3 L9.1,45.1 L7.6,45.7 L6.5,46.2 L6.2,44.1 L7.1,43.2 L8.3,42 L9.7,40.6 L11.3,39.1 L13,37.5 L14.6,35.8 L16.1,34.2 L17.4,32.7 L18.5,31.2 L19.6,29.8 L20.7,28.3 L21.7,26.9 L22.7,25.4 L23.5,23.9 L24.3,22.4 L24.9,20.9 L25.4,19.3 L25.8,17.6 L26,15.9 L26.2,14.2 L26.3,12.5 L26.4,10.8 L26.5,9.2 L26.5,7.6 L26.6,6.1 L26.6,4.7 L26.6,3.3 L26.5,2 L26.4,0.6 L26.3,-0.8 L26.1,-2.2 L25.8,-3.6 L25.6,-5.2 L25.3,-6.8 L25,-8.4 L24.6,-10.1 L24.2,-11.7 L23.7,-13.4 L23.1,-14.9 L22.5,-16.3 L21.8,-17.7 L21,-19.1 L20.2,-20.4 L19.3,-21.7 L18.4,-22.9 L17.3,-24 L16.2,-25 L15,-25.9 L13.5,-26.6 L11.9,-27.2 L10.2,-27.7 L8.4,-28.1 L6.6,-28.4 L4.8,-28.7 L3.1,-29 L1.5,-29.4 L0.1,-29.7 L-1.2,-30.1 L-2.5,-30.5 L-3.7,-30.8 L-4.9,-31.1 L-6.1,-31.4 L-7.3,-31.7 L-8.5,-31.9 L-9.9,-32 L-11.3,-32.2 L-12.8,-32.3 L-14.3,-32.3 L-15.7,-32.4 L-16.9,-32.4 L-18,-32.4 L-18.7,-32.5Z" fill="#fff"/>
<path d="M-17.4,-6.3 L-17.4,-6.9 L-17.5,-7.7 L-17.6,-8.6 L-17.6,-9.7 L-17.7,-10.8 L-17.6,-11.9 L-17.3,-13.1 L-16.9,-14.1 L-16.2,-15.2 L-15.4,-16.4 L-14.4,-17.7 L-13.4,-18.9 L-12.2,-20.1 L-11,-21.3 L-9.7,-22.2 L-8.4,-23 L-7,-23.7 L-5.5,-24.2 L-3.8,-24.7 L-2.2,-25 L-0.5,-25.2 L1.2,-25.3 L2.9,-25.3 L4.4,-25.1 L6,-24.8 L7.5,-24.3 L9.1,-23.7 L10.6,-22.9 L12.1,-22.1 L13.5,-21.2 L14.9,-20.2 L16.1,-19.2 L17.2,-18 L18.2,-16.7 L19.2,-15.3 L20.1,-13.8 L20.9,-12.3 L21.5,-10.9 L22.1,-9.5 L22.6,-8.2 L22.8,-7 L22.9,-5.8 L22.8,-4.6 L22.7,-3.4 L22.5,-2.4 L22.3,-1.4 L22.1,-0.6 L22,0 L21,0 L20.8,-0.5 L20.5,-1.2 L20.2,-1.9 L19.8,-2.8 L19.4,-3.7 L19,-4.7 L18.4,-5.6 L17.9,-6.5 L17.2,-7.4 L16.5,-8.3 L15.7,-9.2 L14.9,-10.1 L14,-11.1 L13.1,-11.9 L12.2,-12.7 L11.2,-13.4 L10.3,-14 L9.3,-14.6 L8.3,-15.1 L7.2,-15.6 L6.2,-16 L5.1,-16.3 L4,-16.6 L3,-16.7 L1.9,-16.8 L0.8,-16.8 L-0.3,-16.8 L-1.4,-16.6 L-2.5,-16.4 L-3.6,-16.2 L-4.6,-15.9 L-5.6,-15.5 L-6.6,-15.1 L-7.7,-14.6 L-8.7,-14 L-9.6,-13.4 L-10.6,-12.8 L-11.5,-12.2 L-12.3,-11.5 L-13,-10.9 L-13.7,-10.3 L-14.3,-9.6 L-14.9,-8.9 L-15.4,-8.3 L-15.9,-7.6 L-16.3,-7 L-16.6,-6.5 L-16.9,-6.2Z" fill="#fff"/>
<path d="M19.7,7.2 L19.5,8.1 L19.2,9.4 L18.9,10.9 L18.5,12.6 L18,14.2 L17.4,15.9 L16.5,17.3 L15.4,18.4 L14,19.3 L12.3,20 L10.4,20.7 L8.3,21.2 L6.2,21.6 L4,21.9 L1.9,22 L0,22 L-1.9,21.8 L-3.8,21.5 L-5.7,21 L-7.5,20.3 L-9.3,19.6 L-11.1,18.7 L-12.7,17.8 L-14.1,16.9 L-15.5,15.7 L-16.8,14.5 L-17.9,13.1 L-19,11.6 L-20,10.1 L-20.9,8.6 L-21.6,7.2 L-22.2,6 L-22.7,4.8 L-22.9,3.6 L-23,2.4 L-23.1,1.3 L-23,0.3 L-23,-0.6 L-22.9,-1.4 L-22.9,-2 L-20.9,-1.8 L-20.7,-1.3 L-20.4,-0.7 L-20,0.1 L-19.6,1 L-19.2,1.9 L-18.6,2.9 L-18.1,3.8 L-17.4,4.7 L-16.6,5.5 L-15.8,6.4 L-14.9,7.3 L-13.9,8.3 L-12.9,9.2 L-11.8,10 L-10.7,10.8 L-9.6,11.5 L-8.5,12.1 L-7.4,12.7 L-6.2,13.3 L-5,13.8 L-3.7,14.3 L-2.5,14.6 L-1.2,14.9 L0,15 L1.3,15 L2.6,14.8 L3.9,14.5 L5.2,14.2 L6.5,13.7 L7.8,13.3 L9.1,12.8 L10.3,12.3 L11.5,11.7 L12.8,11 L14.1,10.2 L15.4,9.5 L16.6,8.7 L17.7,8 L18.6,7.4 L19.3,7Z" fill="#fff" fill-opacity="0.75"/>
</g>
<use href="#tyarms"/>
</g>
<g transform="translate(500.2,176.8)">
<g filter="url(#soft)">
<path d="M-23.4,-29.9 L-22.6,-30.6 L-21.4,-31.5 L-20.1,-32.6 L-18.7,-33.9 L-17.1,-35.1 L-15.5,-36.2 L-13.9,-37.3 L-12.4,-38 L-10.9,-38.7 L-9.5,-39.2 L-8.2,-39.6 L-6.8,-40 L-5.3,-40.3 L-3.7,-40.4 L-1.9,-40.4 L0,-40.3 L2.2,-40.1 L4.6,-39.7 L7.2,-39.3 L9.9,-38.7 L12.6,-38 L15.3,-37.2 L17.9,-36.2 L20.3,-35.1 L22.5,-33.8 L24.7,-32.3 L26.9,-30.7 L29,-28.9 L30.9,-27 L32.8,-25 L34.4,-22.9 L35.9,-20.7 L37.3,-18.5 L38.5,-16 L39.6,-13.5 L40.5,-10.9 L41.2,-8.2 L41.8,-5.4 L42.3,-2.7 L42.5,0 L42.6,2.7 L42.4,5.5 L42.1,8.4 L41.7,11.2 L41.1,14.1 L40.2,16.8 L39.3,19.5 L38.1,22 L36.7,24.4 L35.2,26.8 L33.4,29.2 L31.4,31.5 L29.3,33.6 L27.1,35.6 L24.9,37.4 L22.5,39 L20,40.3 L17.4,41.6 L14.6,42.6 L11.7,43.5 L8.8,44.2 L5.8,44.8 L2.9,45.1 L0,45.2 L-2.9,45.1 L-5.8,44.8 L-8.7,44.3 L-11.7,43.6 L-14.6,42.8 L-17.4,41.7 L-20.1,40.6 L-22.6,39.2 L-25.1,37.7 L-27.5,36 L-29.8,34.1 L-32,32 L-34.1,29.9 L-36.1,27.6 L-37.8,25.2 L-39.4,22.7 L-40.8,20.2 L-42,17.3 L-43,14.4 L-43.9,11.3 L-44.7,8.3 L-45.3,5.3 L-45.7,2.5 L-46,0 L-46.1,-2.3 L-46,-4.5 L-45.7,-6.5 L-45.3,-8.5 L-44.8,-10.3 L-44.2,-12.1 L-43.5,-13.9 L-42.8,-15.6 L-42.1,-17.3 L-41.4,-19 L-40.5,-20.6 L-39.6,-22.1 L-38.6,-23.6 L-37.6,-25.1 L-36.5,-26.4 L-35.5,-27.7 L-34.3,-28.9 L-33,-30.2 L-31.6,-31.3 L-30.2,-32.4 L-28.9,-33.4 L-27.6,-34.3 L-26.6,-35 L-25.9,-35.6 L-24.9,-34.2 L-25.4,-33.5 L-26.1,-32.5 L-27,-31.4 L-27.9,-30.1 L-28.9,-28.8 L-29.9,-27.4 L-30.7,-26 L-31.5,-24.6 L-32.2,-23.3 L-32.9,-21.9 L-33.5,-20.5 L-34.1,-19.1 L-34.6,-17.6 L-35.1,-16.1 L-35.6,-14.6 L-36,-13.1 L-36.4,-11.6 L-36.7,-10.1 L-37.1,-8.5 L-37.4,-7 L-37.6,-5.4 L-37.7,-3.7 L-37.7,-1.9 L-37.5,0 L-37.2,2.1 L-36.7,4.3 L-36.2,6.7 L-35.5,9.2 L-34.7,11.6 L-33.8,14 L-32.8,16.2 L-31.6,18.2 L-30.3,20.1 L-28.7,21.9 L-27.1,23.6 L-25.3,25.2 L-23.4,26.7 L-21.5,28 L-19.5,29.2 L-17.5,30.3 L-15.5,31.2 L-13.3,32.1 L-11.2,32.8 L-8.9,33.3 L-6.7,33.8 L-4.4,34.1 L-2.2,34.2 L0,34.2 L2.2,34 L4.4,33.7 L6.6,33.3 L8.8,32.7 L10.9,32 L13,31.1 L15,30.2 L16.8,29.1 L18.6,27.9 L20.2,26.5 L21.9,25.1 L23.4,23.5 L24.9,21.8 L26.2,20 L27.4,18.2 L28.4,16.4 L29.3,14.5 L30.1,12.6 L30.8,10.5 L31.3,8.4 L31.7,6.3 L32,4.2 L32.2,2.1 L32.2,0 L32.1,-2.1 L31.9,-4.1 L31.5,-6.2 L31,-8.3 L30.4,-10.4 L29.7,-12.4 L28.9,-14.3 L28,-16.1 L26.9,-17.9 L25.8,-19.7 L24.5,-21.5 L23.1,-23.1 L21.6,-24.7 L20,-26.2 L18.4,-27.6 L16.7,-28.8 L14.8,-29.9 L12.7,-30.9 L10.5,-31.8 L8.3,-32.5 L6.1,-33.2 L3.9,-33.7 L1.8,-34.2 L0,-34.5 L-1.6,-34.7 L-3.1,-34.7 L-4.4,-34.7 L-5.7,-34.5 L-6.9,-34.3 L-8.2,-34 L-9.4,-33.6 L-10.8,-33.3 L-12.3,-32.9 L-14,-32.4 L-15.7,-31.8 L-17.5,-31.1 L-19.1,-30.5 L-20.6,-30 L-21.8,-29.5 L-22.8,-29.2Z" fill="#fff"/>
<path d="M-21.7,-12.5 L-21.2,-13.6 L-20.7,-15.1 L-20,-16.9 L-19.3,-18.9 L-18.4,-20.9 L-17.4,-22.9 L-16.3,-24.6 L-15,-26 L-13.5,-27.1 L-11.9,-28.1 L-10,-29.1 L-8.1,-29.8 L-6.1,-30.5 L-4,-31 L-2,-31.3 L0,-31.5 L2,-31.5 L4,-31.3 L6.1,-31 L8.1,-30.5 L10.1,-29.9 L12.1,-29.1 L14,-28.3 L15.8,-27.4 L17.5,-26.3 L19.2,-25.1 L20.8,-23.8 L22.3,-22.3 L23.8,-20.8 L25.1,-19.2 L26.3,-17.5 L27.4,-15.8 L28.3,-14 L29.1,-12.2 L29.8,-10.2 L30.4,-8.2 L30.9,-6.1 L31.3,-4.1 L31.5,-2 L31.6,0 L31.6,2 L31.4,4.1 L31.1,6.2 L30.7,8.3 L30.2,10.3 L29.5,12.3 L28.8,14.3 L27.9,16.1 L26.9,17.9 L25.7,19.6 L24.4,21.4 L23,23 L21.5,24.6 L19.9,26.1 L18.2,27.4 L16.5,28.6 L14.7,29.6 L12.7,30.6 L10.7,31.4 L8.6,32.1 L6.4,32.7 L4.3,33.2 L2.1,33.5 L0,33.6 L-2.1,33.6 L-4.3,33.4 L-6.6,33.1 L-8.8,32.6 L-11,32 L-13.1,31.3 L-15.1,30.4 L-17,29.4 L-18.8,28.3 L-20.6,27 L-22.3,25.5 L-23.9,23.9 L-25.4,22.2 L-26.8,20.4 L-28,18.6 L-29,16.7 L-29.9,14.8 L-30.5,12.7 L-31.1,10.5 L-31.5,8.2 L-31.7,6 L-31.9,3.8 L-32,1.8 L-32,0 L-31.9,-1.6 L-31.6,-3.2 L-31.3,-4.6 L-30.8,-5.9 L-30.3,-7.1 L-29.8,-8.3 L-29.2,-9.4 L-28.7,-10.4 L-28.1,-11.5 L-27.4,-12.4 L-26.7,-13.3 L-26,-14.2 L-25.3,-14.9 L-24.7,-15.6 L-24.1,-16.2 L-23.8,-16.6 L-22.9,-16.1 L-23,-15.5 L-23.1,-14.7 L-23.2,-13.8 L-23.2,-12.8 L-23.3,-11.8 L-23.4,-10.7 L-23.5,-9.6 L-23.5,-8.6 L-23.5,-7.6 L-23.5,-6.6 L-23.5,-5.6 L-23.4,-4.5 L-23.4,-3.5 L-23.3,-2.4 L-23.2,-1.2 L-23,0 L-22.8,1.3 L-22.6,2.8 L-22.4,4.3 L-22.2,5.8 L-21.9,7.4 L-21.5,8.9 L-21,10.4 L-20.4,11.7 L-19.6,13 L-18.8,14.3 L-17.8,15.6 L-16.8,16.8 L-15.6,17.9 L-14.5,19 L-13.3,20 L-12,20.8 L-10.7,21.5 L-9.2,22.2 L-7.7,22.7 L-6.2,23.2 L-4.6,23.6 L-3.1,23.8 L-1.5,24 L0,24 L1.5,23.9 L3,23.6 L4.5,23.2 L6,22.7 L7.5,22.1 L8.9,21.4 L10.2,20.7 L11.5,19.9 L12.7,19.1 L13.9,18.1 L15,17.1 L16.1,16 L17,14.9 L18,13.7 L18.8,12.5 L19.5,11.2 L20.1,10 L20.6,8.6 L21.1,7.2 L21.4,5.8 L21.7,4.3 L21.9,2.9 L22,1.4 L22,0 L21.9,-1.4 L21.8,-2.8 L21.5,-4.2 L21.2,-5.6 L20.7,-7 L20.2,-8.4 L19.7,-9.7 L19.1,-11 L18.4,-12.2 L17.6,-13.5 L16.7,-14.7 L15.8,-15.9 L14.8,-17 L13.8,-18.1 L12.7,-19 L11.5,-19.9 L10.3,-20.7 L8.9,-21.5 L7.5,-22.2 L6,-22.8 L4.5,-23.3 L3,-23.7 L1.5,-23.9 L0,-24 L-1.5,-23.9 L-2.9,-23.6 L-4.4,-23.2 L-5.9,-22.7 L-7.3,-22.1 L-8.8,-21.4 L-10.2,-20.7 L-11.5,-19.9 L-12.8,-19.1 L-14.2,-18 L-15.6,-16.9 L-16.9,-15.7 L-18.1,-14.6 L-19.2,-13.5 L-20.1,-12.6 L-20.8,-12Z" fill="#fff"/>
<path d="M-17.4,-6.3 L-17.3,-6.9 L-17.3,-7.6 L-17.3,-8.5 L-17.3,-9.5 L-17.2,-10.5 L-17,-11.5 L-16.6,-12.6 L-16.1,-13.5 L-15.4,-14.4 L-14.5,-15.4 L-13.5,-16.4 L-12.4,-17.4 L-11.3,-18.4 L-10,-19.3 L-8.8,-20 L-7.5,-20.7 L-6.2,-21.2 L-4.8,-21.6 L-3.4,-21.9 L-1.9,-22.2 L-0.4,-22.3 L1.1,-22.4 L2.5,-22.3 L3.9,-22.2 L5.3,-21.8 L6.6,-21.4 L8,-20.9 L9.4,-20.2 L10.7,-19.4 L11.9,-18.6 L13.1,-17.8 L14.1,-16.9 L15.1,-15.8 L16.1,-14.6 L17,-13.2 L17.8,-11.8 L18.6,-10.4 L19.2,-9.2 L19.8,-8.1 L20.2,-7.4 L17.9,-6.5 L17.4,-7.1 L16.7,-7.8 L15.9,-8.7 L15.1,-9.7 L14.1,-10.8 L13.2,-11.8 L12.2,-12.7 L11.2,-13.4 L10.3,-14 L9.3,-14.6 L8.3,-15.1 L7.2,-15.6 L6.2,-16 L5.1,-16.3 L4,-16.6 L3,-16.7 L1.9,-16.8 L0.8,-16.8 L-0.3,-16.8 L-1.4,-16.6 L-2.5,-16.4 L-3.6,-16.2 L-4.6,-15.9 L-5.6,-15.5 L-6.6,-15.1 L-7.7,-14.6 L-8.7,-14 L-9.6,-13.4 L-10.6,-12.8 L-11.5,-12.2 L-12.3,-11.5 L-13,-10.9 L-13.7,-10.3 L-14.3,-9.6 L-14.9,-8.9 L-15.4,-8.3 L-15.9,-7.6 L-16.3,-7 L-16.6,-6.5 L-16.9,-6.2Z" fill="#fff" fill-opacity="0.8"/>
<path d="M19.7,7.2 L19.4,8 L18.9,9 L18.4,10.3 L17.8,11.8 L17.1,13.2 L16.3,14.6 L15.3,15.8 L14.1,16.9 L12.8,17.7 L11.2,18.5 L9.4,19.2 L7.6,19.8 L5.6,20.4 L3.7,20.7 L1.8,21 L0,21 L-1.8,20.9 L-3.6,20.5 L-5.4,20.1 L-7.1,19.5 L-8.9,18.7 L-10.5,17.9 L-12.1,17 L-13.5,16.1 L-14.8,15 L-16,13.8 L-17.1,12.5 L-18.1,11.1 L-19.1,9.6 L-19.9,8.2 L-20.6,6.9 L-21.3,5.7 L-21.7,4.6 L-22,3.4 L-22.2,2.3 L-22.3,1.2 L-22.4,0.2 L-22.4,-0.6 L-22.4,-1.4 L-22.4,-2 L-20.9,-1.8 L-20.7,-1.3 L-20.4,-0.7 L-20,0.1 L-19.6,1 L-19.2,1.9 L-18.6,2.9 L-18.1,3.8 L-17.4,4.7 L-16.6,5.5 L-15.8,6.4 L-14.9,7.3 L-13.9,8.3 L-12.9,9.2 L-11.8,10 L-10.7,10.8 L-9.6,11.5 L-8.5,12.1 L-7.4,12.7 L-6.2,13.3 L-5,13.8 L-3.7,14.3 L-2.5,14.6 L-1.2,14.9 L0,15 L1.3,15 L2.6,14.8 L3.9,14.5 L5.2,14.2 L6.5,13.7 L7.8,13.3 L9.1,12.8 L10.3,12.3 L11.5,11.7 L12.8,11 L14.1,10.2 L15.4,9.5 L16.6,8.7 L17.7,8 L18.6,7.4 L19.3,7Z" fill="#fff" fill-opacity="0.6"/>
</g>
<use href="#tyarms"/>
</g>
<path d="M154.2,73 L153.2,72.9 L152.1,72.7 L150.7,72.4 L149,72.1 L147.3,71.8 L145.3,71.6 L143.3,71.5 L141.2,71.5 L139.1,71.7 L137.1,72.1 L135,72.7 L132.8,73.5 L130.6,74.4 L128.2,75.4 L125.9,76.6 L123.6,77.8 L121.3,79.2 L119.2,80.6 L117.2,82.1 L115.4,83.7 L113.8,85.4 L112.2,87.4 L110.8,89.5 L109.6,91.6 L108.4,93.8 L107.4,96 L106.4,98.1 L105.6,100.1 L104.9,101.8 L104.4,103.4 L103.9,104.9 L103.7,106.3 L103.7,107.6 L103.9,108.8 L104.1,109.8 L104.5,110.7 L104.8,111.4 L105,112 L105.1,112.3 L105.2,112.6 L109.4,111.4 L109.2,110.9 L109,110.2 L108.7,109.6 L108.4,109.1 L108.2,108.5 L108,108 L107.9,107.3 L107.8,106.6 L107.9,105.7 L108.2,104.6 L108.7,103.2 L109.3,101.5 L110.1,99.6 L110.9,97.6 L111.9,95.6 L112.9,93.5 L114.1,91.5 L115.3,89.6 L116.6,87.8 L118,86.3 L119.5,84.9 L121.3,83.5 L123.3,82.2 L125.4,80.9 L127.5,79.7 L129.7,78.6 L131.9,77.5 L134.1,76.7 L136.1,75.9 L137.9,75.3 L139.7,74.9 L141.4,74.7 L143.2,74.7 L145.1,74.8 L146.8,75 L148.5,75.2 L150.1,75.5 L151.6,75.7 L152.8,75.9 L153.8,76 Z" fill="#0a0af2"/>
<path d="M120.2,130 L98.5,117 L115,105 Z" fill="#0a0af2"/>
<path d="M351.7,75 L350.9,74.9 L349.9,74.6 L348.6,74.3 L347.2,73.9 L345.5,73.6 L343.8,73.3 L342,73 L340.1,72.9 L338.2,72.9 L336.3,73.1 L334.5,73.5 L332.6,74 L330.7,74.6 L328.8,75.3 L326.8,76.1 L324.9,77 L323,77.9 L321.2,78.9 L319.4,80 L317.8,81.1 L316.2,82.4 L314.7,83.7 L313.2,85 L311.8,86.5 L310.4,88 L309.1,89.5 L307.9,91.1 L306.8,92.6 L305.7,94.2 L304.8,95.8 L303.9,97.5 L303.2,99.3 L302.5,101.2 L302,103 L301.6,104.8 L301.3,106.5 L301,108.1 L300.7,109.4 L300.5,110.5 L300.3,111.3 L306.1,112.7 L306.3,111.7 L306.5,110.5 L306.7,109.1 L307,107.6 L307.3,106 L307.6,104.4 L308,102.8 L308.5,101.2 L309,99.7 L309.6,98.4 L310.4,97.1 L311.3,95.7 L312.3,94.3 L313.3,92.8 L314.4,91.4 L315.6,90.1 L316.9,88.7 L318.2,87.5 L319.5,86.3 L320.8,85.3 L322.2,84.2 L323.8,83.2 L325.4,82.3 L327.1,81.4 L328.8,80.6 L330.6,79.8 L332.3,79.1 L334,78.5 L335.6,78 L337.1,77.7 L338.5,77.5 L340,77.4 L341.6,77.5 L343.2,77.7 L344.7,77.9 L346.2,78.2 L347.7,78.5 L349,78.8 L350.1,79 L351.1,79.2 Z" fill="#0a0af2"/>
<path d="M319.3,137 L290.2,118.8 L312.4,104 Z" fill="#0a0af2"/>
<path d="M549.7,70.8 L548.9,70.6 L547.8,70.3 L546.5,69.9 L544.9,69.4 L543.2,69 L541.3,68.5 L539.4,68.2 L537.3,67.9 L535.2,67.8 L533.2,67.9 L531.1,68.2 L529.1,68.6 L527,69.1 L524.8,69.7 L522.6,70.4 L520.5,71.2 L518.4,72.1 L516.3,73.1 L514.4,74.1 L512.5,75.2 L510.8,76.5 L509.1,77.8 L507.6,79.3 L506.1,80.8 L504.7,82.4 L503.4,84 L502.2,85.6 L501.1,87.1 L500.1,88.7 L499.2,90.2 L498.4,91.9 L497.7,93.7 L497.1,95.4 L496.7,97.1 L496.4,98.7 L496.2,100.2 L496,101.6 L495.8,102.8 L495.7,103.7 L495.6,104.3 L502.8,105.7 L503,104.8 L503.1,103.7 L503.2,102.5 L503.4,101.2 L503.6,99.9 L503.8,98.5 L504.1,97.2 L504.4,95.9 L504.9,94.7 L505.4,93.6 L506.1,92.3 L506.9,91 L507.9,89.6 L508.9,88.2 L510,86.8 L511.2,85.4 L512.4,84.1 L513.6,82.9 L514.9,81.8 L516.3,80.8 L517.7,79.9 L519.3,79 L521.1,78.1 L522.9,77.3 L524.8,76.6 L526.7,75.9 L528.6,75.4 L530.5,74.9 L532.3,74.5 L533.8,74.3 L535.3,74.1 L536.9,74.2 L538.5,74.4 L540.1,74.6 L541.8,75 L543.4,75.4 L544.9,75.8 L546.2,76.1 L547.5,76.4 L548.5,76.6 Z" fill="#0a0af2"/>
<path d="M518.4,136 L482.3,113 L510,94.5 Z" fill="#0a0af2"/>
<text x="175.6" y="48.9" font-size="17.9" fill="#0d0d0d" stroke="#0d0d0d" stroke-width="0.3" transform="translate(0,4.16) scale(1,0.915)">Upper-level trough</text>
<text x="359.5" y="129.3" font-size="17.9" fill="#0d0d0d" stroke="#0d0d0d" stroke-width="0.3" transform="translate(0,10.99) scale(1,0.915)">Cold air</text>
<path d="M428.6,124 L476.3,111" stroke="#0d0d0d" stroke-width="1.9" fill="none"/>
<path d="M466,119 L474.1,111.6 L463.4,109.3" fill="none" stroke="#0d0d0d" stroke-width="2.4" stroke-linejoin="miter" stroke-linecap="butt"/>
<text x="164.3" y="241.3" font-size="17.9" fill="#0d0d0d" stroke="#0d0d0d" stroke-width="0.3" transform="translate(0,20.51) scale(1,0.915)">Low-level</text>
<text x="142.9" y="260.8" font-size="17.9" fill="#0d0d0d" stroke="#0d0d0d" stroke-width="0.3" transform="translate(0,22.16) scale(1,0.915)">warm moisture</text>
<path d="M175.5,218.6 L149.9,201.5" stroke="#0d0d0d" stroke-width="1.9" fill="none"/>
<path d="M162.7,204 L151.8,202.7 L157.1,212.3" fill="none" stroke="#0d0d0d" stroke-width="2.4" stroke-linejoin="miter" stroke-linecap="butt"/>
<path d="M229.3,220 L252.2,203.4" stroke="#0d0d0d" stroke-width="1.9" fill="none"/>
<path d="M245.4,214.5 L250.4,204.7 L239.5,206.4" fill="none" stroke="#0d0d0d" stroke-width="2.4" stroke-linejoin="miter" stroke-linecap="butt"/>
<text x="336.1" y="256" font-size="17.9" fill="#0d0d0d" stroke="#0d0d0d" stroke-width="0.3" transform="translate(0,21.76) scale(1,0.915)">Spiral&#160;&#160;<tspan dx="1.5">rainband</tspan></text>
<path d="M354.8,233.8 L329.9,207.6" stroke="#0d0d0d" stroke-width="1.9" fill="none"/>
<path d="M341.8,212.9 L331.4,209.2 L334.6,219.8" fill="none" stroke="#0d0d0d" stroke-width="2.4" stroke-linejoin="miter" stroke-linecap="butt"/>
<path d="M447.2,239.3 L459.6,192.4" stroke="#0d0d0d" stroke-width="1.9" fill="none"/>
<path d="M461.3,205.3 L459,194.6 L451.7,202.8" fill="none" stroke="#0d0d0d" stroke-width="2.4" stroke-linejoin="miter" stroke-linecap="butt"/>
<path d="M75.1,321.7C81.8,321.3 101.1,319.8 115,319.1C128.9,318.5 144,318 158.4,317.8C172.8,317.6 187.3,317.6 201.7,318.2C216.1,318.8 230.6,320.2 245,321.7C259.4,323.2 273.9,324.9 288.4,327.3C302.8,329.7 317.2,332.5 331.7,336C346.1,339.5 362.1,344 375.1,348.5C388.1,353 399,358.3 409.8,362.9C420.6,367.5 430.7,372.5 440.1,375.9C449.5,379.3 455.3,380.5 466.1,383.2C476.9,385.9 495,389.7 505.1,392.3C515.2,394.9 519.6,396.3 526.8,398.8C534,401.3 544.9,406.1 548.5,407.5" fill="none" stroke="#2bc3ea" stroke-width="3.9" stroke-linecap="butt"/>
<path d="M76.9,524.1C83.2,525 102.9,528.2 115,529.7C127.1,531.2 139.6,532.5 149.7,533.2C159.8,533.9 165.6,534.4 175.7,534C185.8,533.6 198.8,532.6 210.4,531C222,529.4 232,527 245,524.1C258,521.2 273.9,516.7 288.4,513.7C302.8,510.7 317.2,508.3 331.7,505.9C346.1,503.5 360.7,501.6 375.1,499.4C389.6,497.2 405.4,495.4 418.4,492.9C431.4,490.4 442.2,487.5 453.1,484.2C464,480.9 473.4,477.6 483.5,473.3C493.6,469 503,464.1 513.8,458.2C524.6,452.3 542.7,441.2 548.5,437.8" fill="none" stroke="#2bc3ea" stroke-width="3.9" stroke-linecap="butt"/>
<text x="643.5" y="42.5" font-size="46" fill="#0d0d0d" letter-spacing="2.5">(b)</text>
<use href="#drop" x="723.5" y="235.1"/>
<use href="#drop" x="740.5" y="235.1"/>
<use href="#drop" x="731.7" y="245.2"/>
<use href="#drop" x="742.8" y="250.9"/>
<use href="#drop" x="751.9" y="251.5"/>
<use href="#drop" x="723.8" y="257.2"/>
<use href="#drop" x="731.7" y="259.7"/>
<use href="#drop" x="739.3" y="264.1"/>
<use href="#drop" x="751.9" y="266"/>
<use href="#house" x="740.1" y="269.8"/>
<use href="#dropS" x="933.6" y="230.1"/>
<use href="#dropS" x="940.9" y="233.2"/>
<use href="#dropS" x="945.3" y="238.9"/>
<use href="#dropS" x="931.4" y="238.6"/>
<use href="#dropS" x="938" y="244.3"/>
<use href="#dropS" x="932" y="252.2"/>
<use href="#dropS" x="938.3" y="253.7"/>
<use href="#dropS" x="945.9" y="252.8"/>
<use href="#dropS" x="945.9" y="261"/>
<use href="#dropS" x="932.3" y="263.8"/>
<use href="#dropS" x="939.9" y="265.7"/>
<use href="#house" x="939.9" y="269.8"/>
<use href="#drop" x="1107.2" y="237.2"/>
<use href="#drop" x="1119.5" y="235.3"/>
<use href="#drop" x="1126.1" y="237.5"/>
<use href="#drop" x="1133.7" y="233.1"/>
<use href="#drop" x="1141.9" y="232.1"/>
<use href="#drop" x="1141.9" y="242.9"/>
<use href="#drop" x="1110.7" y="249.8"/>
<use href="#drop" x="1120.8" y="248.5"/>
<use href="#drop" x="1127.7" y="248.5"/>
<use href="#drop" x="1135" y="249.8"/>
<use href="#drop" x="1147.9" y="251.1"/>
<use href="#drop" x="1141.9" y="256.1"/>
<use href="#drop" x="1114.2" y="264.9"/>
<use href="#drop" x="1120.5" y="260.5"/>
<use href="#drop" x="1127.4" y="259.3"/>
<use href="#drop" x="1132.8" y="264.9"/>
<use href="#drop" x="1139.4" y="265.6"/>
<use href="#drop" x="1147.9" y="265.6"/>
<use href="#house" x="1135.3" y="269.8"/>
<rect x="710.1" y="285.3" width="178.8" height="14" fill="#fa6cb0" stroke="#3a2420" stroke-width="0.9"/>
<text x="793.2" y="296.5" font-size="13.2" text-anchor="middle" font-style="italic" fill="#170a26" stroke="#170a26" stroke-width="0.25" letter-spacing="0.3">Stage 1</text>
<rect x="888.9" y="285.3" width="102.9" height="14" fill="#cd89f0" stroke="#3a2420" stroke-width="0.9"/>
<text x="942" y="296.5" font-size="13.2" text-anchor="middle" font-style="italic" fill="#170a26" stroke="#170a26" stroke-width="0.25" letter-spacing="0.3">Stage 2</text>
<rect x="991.8" y="285.3" width="193.1" height="14" fill="#22ce35" stroke="#3a2420" stroke-width="0.9"/>
<text x="1094.9" y="296.5" font-size="13.2" text-anchor="middle" font-style="italic" fill="#170a26" stroke="#170a26" stroke-width="0.25" letter-spacing="0.3">Stage 3</text>
<path d="M688.8,310.7 V416.4 H1213.8" fill="none" stroke="#3a3130" stroke-width="1.7"/>
<path d="M695.7,322.1 L688.8,311.5 L681.9,322.1" fill="none" stroke="#3a3130" stroke-width="2.3" stroke-linejoin="miter" stroke-linecap="butt"/>
<path d="M1202.5,423.3 L1213.1,416.4 L1202.5,409.5" fill="none" stroke="#3a3130" stroke-width="2.3" stroke-linejoin="miter" stroke-linecap="butt"/>
<path d="M688.8,442 V547.8 H1213.8" fill="none" stroke="#3a3130" stroke-width="1.7"/>
<path d="M695.7,453.4 L688.8,442.8 L681.9,453.4" fill="none" stroke="#3a3130" stroke-width="2.3" stroke-linejoin="miter" stroke-linecap="butt"/>
<path d="M1202.5,554.7 L1213.1,547.8 L1202.5,540.9" fill="none" stroke="#3a3130" stroke-width="2.3" stroke-linejoin="miter" stroke-linecap="butt"/>
<text x="640.3" y="369" font-size="27" fill="#0d0d0d" stroke="#0d0d0d" stroke-width="0.35">δ<tspan font-size="12.6" dy="4.4" dx="0.6">vapor</tspan></text>
<text x="640" y="499.8" font-size="24.4" fill="#0d0d0d" stroke="#0d0d0d" stroke-width="0.35">d<tspan font-size="12.6" dy="4.8" dx="1.5">vapor</tspan></text>
<text x="940.2" y="580.3" font-size="26.2" text-anchor="middle" letter-spacing="1.0" fill="#0d0d0d" stroke="#0d0d0d" stroke-width="0.2">Time</text>
<g transform="translate(742.6,178)">
<g filter="url(#soft)">
<path d="M8.9,-42.1 L7.7,-42.2 L6,-42.5 L3.9,-42.8 L1.7,-43.1 L-0.7,-43.4 L-3.1,-43.6 L-5.5,-43.7 L-7.7,-43.6 L-9.8,-43.5 L-12,-43.2 L-14.1,-43 L-16.3,-42.6 L-18.4,-42.1 L-20.6,-41.5 L-22.7,-40.7 L-24.8,-39.7 L-26.9,-38.6 L-29.1,-37.4 L-31.3,-36 L-33.4,-34.5 L-35.5,-32.8 L-37.4,-31 L-39.2,-28.9 L-40.8,-26.5 L-42.3,-23.7 L-43.6,-20.5 L-44.9,-16.9 L-46,-13.2 L-46.9,-9.5 L-47.7,-5.9 L-48.3,-2.7 L-48.7,0 L-48.8,2.2 L-48.7,4.1 L-48.4,5.7 L-48,7.1 L-47.4,8.4 L-46.7,9.6 L-46,10.8 L-45.3,12.1 L-44.6,13.5 L-43.7,14.7 L-42.9,15.9 L-41.9,17.1 L-40.9,18.2 L-39.8,19.4 L-38.6,20.5 L-37.4,21.6 L-36.2,22.7 L-34.9,23.9 L-33.6,25.1 L-32.2,26.2 L-30.7,27.3 L-29.1,28.3 L-27.2,29.2 L-25.2,30 L-22.8,30.7 L-20.1,31.4 L-17.1,32 L-14,32.5 L-10.9,32.8 L-8,33.1 L-5.2,33.1 L-2.9,32.9 L-0.8,32.3 L1.1,31.5 L2.9,30.3 L4.5,29.1 L5.9,27.8 L7.2,26.6 L8.2,25.6 L9.1,24.9 L8.9,24.4 L8.1,24.5 L7,24.6 L5.7,24.7 L4.2,24.8 L2.7,24.9 L1.1,24.9 L-0.6,24.8 L-2.1,24.5 L-3.8,24.1 L-5.5,23.5 L-7.3,22.8 L-9.2,22 L-11,21.2 L-12.8,20.4 L-14.4,19.6 L-15.8,18.8 L-17.1,18.2 L-18.2,17.5 L-19.3,16.9 L-20.2,16.2 L-21.1,15.6 L-21.9,14.9 L-22.7,14.2 L-23.4,13.5 L-24.1,12.8 L-24.7,12 L-25.2,11.3 L-25.7,10.5 L-26.1,9.8 L-26.5,9 L-26.9,8.2 L-27.3,7.3 L-27.8,6.5 L-28.2,5.8 L-28.6,5.2 L-29,4.5 L-29.3,3.7 L-29.6,2.7 L-29.8,1.5 L-30,0 L-30.1,-1.9 L-30.3,-4.1 L-30.4,-6.6 L-30.4,-9.2 L-30.3,-11.9 L-30.2,-14.4 L-29.8,-16.9 L-29.3,-19 L-28.5,-20.9 L-27.6,-22.7 L-26.4,-24.4 L-25.2,-26 L-23.9,-27.5 L-22.5,-28.9 L-21,-30.2 L-19.6,-31.4 L-18.2,-32.4 L-16.6,-33.3 L-15.1,-34.1 L-13.4,-34.7 L-11.8,-35.4 L-10.1,-35.9 L-8.3,-36.5 L-6.5,-37.1 L-4.6,-37.8 L-2.5,-38.4 L-0.3,-39.1 L2,-39.7 L4.1,-40.3 L6,-40.8 L7.6,-41.2 L8.8,-41.6Z" fill="#fff"/>
<path d="M-17.8,-33.6 L-17.3,-34 L-16.6,-34.6 L-15.7,-35.3 L-14.7,-36 L-13.7,-36.8 L-12.6,-37.5 L-11.5,-38.2 L-10.4,-38.6 L-9.2,-39 L-8,-39.3 L-6.7,-39.5 L-5.4,-39.6 L-4,-39.7 L-2.7,-39.8 L-1.3,-39.8 L0,-39.8 L1.3,-39.8 L2.6,-39.8 L4,-39.8 L5.3,-39.7 L6.6,-39.6 L7.9,-39.4 L9.2,-39.1 L10.4,-38.6 L11.5,-38.1 L12.6,-37.4 L13.7,-36.6 L14.7,-35.7 L15.7,-34.8 L16.7,-33.9 L17.6,-32.9 L18.5,-32 L19.3,-31.2 L20.1,-30.4 L20.8,-29.5 L21.5,-28.7 L22.2,-27.8 L22.9,-26.8 L23.7,-25.8 L24.6,-24.6 L25.6,-23.3 L26.7,-22 L27.9,-20.6 L29.2,-19.1 L30.4,-17.5 L31.5,-15.8 L32.6,-14.1 L33.5,-12.2 L34.2,-10.1 L35,-7.9 L35.6,-5.5 L36.2,-3 L36.7,-0.6 L37.1,1.9 L37.3,4.3 L37.3,6.6 L37.2,8.8 L37,10.9 L36.6,13.1 L36.1,15.2 L35.4,17.3 L34.7,19.2 L33.8,21.1 L32.8,22.9 L31.6,24.7 L30.3,26.3 L28.9,27.9 L27.3,29.4 L25.7,30.8 L23.9,32.2 L22,33.4 L20,34.6 L17.8,35.8 L15.4,37 L12.8,38.1 L10.2,39.2 L7.5,40.1 L4.9,40.9 L2.3,41.4 L0,41.7 L-2.2,41.7 L-4.4,41.5 L-6.5,41 L-8.5,40.4 L-10.5,39.7 L-12.4,38.9 L-14.1,38 L-15.8,37.2 L-17.4,36.2 L-18.9,35.1 L-20.3,33.8 L-21.7,32.5 L-22.9,31.2 L-23.9,30.1 L-24.8,29.1 L-25.6,28.4 L-25.1,27.9 L-24.2,28.2 L-23.1,28.7 L-21.7,29.2 L-20.2,29.8 L-18.5,30.4 L-16.9,31 L-15.2,31.5 L-13.6,31.9 L-12,32.3 L-10.4,32.7 L-8.7,33.1 L-7,33.5 L-5.3,33.8 L-3.6,33.9 L-1.8,33.9 L0,33.7 L1.9,33.3 L3.9,32.7 L6,31.9 L8.2,31.1 L10.2,30.1 L12.2,29.1 L14,28 L15.5,26.8 L16.8,25.7 L18,24.4 L19,23 L19.9,21.6 L20.7,20.1 L21.4,18.7 L22,17.2 L22.5,15.8 L23,14.4 L23.4,12.9 L23.7,11.5 L23.9,10.1 L24,8.7 L24.1,7.2 L24.1,5.7 L24.1,4.3 L24.1,2.7 L24,1.1 L23.9,-0.5 L23.7,-2.1 L23.5,-3.7 L23.3,-5.3 L22.9,-6.8 L22.6,-8.2 L22.1,-9.6 L21.5,-10.9 L20.9,-12.1 L20.3,-13.4 L19.6,-14.5 L18.9,-15.6 L18.3,-16.7 L17.7,-17.7 L17.1,-18.6 L16.6,-19.4 L16.1,-20.1 L15.6,-20.7 L15.1,-21.4 L14.6,-22 L14.1,-22.7 L13.5,-23.4 L12.9,-24.1 L12.3,-25 L11.6,-25.8 L10.9,-26.6 L10.2,-27.4 L9.5,-28.2 L8.7,-28.9 L7.9,-29.5 L7,-30 L6.1,-30.4 L5.1,-30.7 L4.2,-31 L3.1,-31.3 L2.1,-31.5 L1.1,-31.8 L0,-32 L-1.1,-32.2 L-2.2,-32.5 L-3.3,-32.7 L-4.4,-32.9 L-5.6,-33 L-6.7,-33.2 L-7.8,-33.3 L-8.9,-33.3 L-10.1,-33.3 L-11.3,-33.3 L-12.5,-33.2 L-13.7,-33.1 L-14.8,-33 L-15.9,-32.8 L-16.7,-32.7 L-17.4,-32.7Z" fill="#fff"/>
<path d="M-17.4,-6.3 L-17.4,-6.9 L-17.5,-7.7 L-17.6,-8.6 L-17.6,-9.7 L-17.7,-10.8 L-17.6,-11.9 L-17.3,-13.1 L-16.9,-14.1 L-16.2,-15.2 L-15.4,-16.4 L-14.4,-17.7 L-13.4,-18.9 L-12.2,-20.1 L-11,-21.3 L-9.7,-22.2 L-8.4,-23 L-7,-23.7 L-5.5,-24.2 L-3.8,-24.7 L-2.2,-25 L-0.5,-25.2 L1.2,-25.3 L2.9,-25.3 L4.4,-25.1 L6,-24.8 L7.5,-24.3 L9.1,-23.7 L10.6,-22.9 L12.1,-22.1 L13.5,-21.2 L14.9,-20.2 L16.1,-19.2 L17.2,-18 L18.2,-16.7 L19.2,-15.3 L20.1,-13.8 L20.9,-12.3 L21.5,-10.9 L22.1,-9.5 L22.6,-8.2 L22.8,-7 L22.9,-5.8 L22.8,-4.6 L22.7,-3.4 L22.5,-2.4 L22.3,-1.4 L22.1,-0.6 L22,0 L21,0 L20.8,-0.5 L20.5,-1.2 L20.2,-1.9 L19.8,-2.8 L19.4,-3.7 L19,-4.7 L18.4,-5.6 L17.9,-6.5 L17.2,-7.4 L16.5,-8.3 L15.7,-9.2 L14.9,-10.1 L14,-11.1 L13.1,-11.9 L12.2,-12.7 L11.2,-13.4 L10.3,-14 L9.3,-14.6 L8.3,-15.1 L7.2,-15.6 L6.2,-16 L5.1,-16.3 L4,-16.6 L3,-16.7 L1.9,-16.8 L0.8,-16.8 L-0.3,-16.8 L-1.4,-16.6 L-2.5,-16.4 L-3.6,-16.2 L-4.6,-15.9 L-5.6,-15.5 L-6.6,-15.1 L-7.7,-14.6 L-8.7,-14 L-9.6,-13.4 L-10.6,-12.8 L-11.5,-12.2 L-12.3,-11.5 L-13,-10.9 L-13.7,-10.3 L-14.3,-9.6 L-14.9,-8.9 L-15.4,-8.3 L-15.9,-7.6 L-16.3,-7 L-16.6,-6.5 L-16.9,-6.2Z" fill="#fff"/>
<path d="M19.7,7.2 L19.5,8.1 L19.2,9.4 L18.9,10.9 L18.5,12.6 L18,14.2 L17.4,15.9 L16.5,17.3 L15.4,18.4 L14,19.3 L12.3,20 L10.4,20.7 L8.3,21.2 L6.2,21.6 L4,21.9 L1.9,22 L0,22 L-1.9,21.8 L-3.8,21.5 L-5.7,21 L-7.5,20.3 L-9.3,19.6 L-11.1,18.7 L-12.7,17.8 L-14.1,16.9 L-15.5,15.7 L-16.8,14.5 L-17.9,13.1 L-19,11.6 L-20,10.1 L-20.9,8.6 L-21.6,7.2 L-22.2,6 L-22.7,4.8 L-22.9,3.6 L-23,2.4 L-23.1,1.3 L-23,0.3 L-23,-0.6 L-22.9,-1.4 L-22.9,-2 L-20.9,-1.8 L-20.7,-1.3 L-20.4,-0.7 L-20,0.1 L-19.6,1 L-19.2,1.9 L-18.6,2.9 L-18.1,3.8 L-17.4,4.7 L-16.6,5.5 L-15.8,6.4 L-14.9,7.3 L-13.9,8.3 L-12.9,9.2 L-11.8,10 L-10.7,10.8 L-9.6,11.5 L-8.5,12.1 L-7.4,12.7 L-6.2,13.3 L-5,13.8 L-3.7,14.3 L-2.5,14.6 L-1.2,14.9 L0,15 L1.3,15 L2.6,14.8 L3.9,14.5 L5.2,14.2 L6.5,13.7 L7.8,13.3 L9.1,12.8 L10.3,12.3 L11.5,11.7 L12.8,11 L14.1,10.2 L15.4,9.5 L16.6,8.7 L17.7,8 L18.6,7.4 L19.3,7Z" fill="#fff" fill-opacity="0.75"/>
</g>
<use href="#tyarms"/>
</g>
<g transform="translate(939.6,180.7)">
<g filter="url(#soft)">
<path d="M-0.8,-44.6 L-2.2,-44.4 L-4.2,-44.2 L-6.5,-44 L-9,-43.8 L-11.7,-43.4 L-14.4,-42.9 L-17,-42.3 L-19.4,-41.5 L-21.6,-40.5 L-23.8,-39.4 L-26,-38.1 L-28.1,-36.7 L-30.3,-35.2 L-32.3,-33.6 L-34.2,-32 L-36.1,-30.3 L-37.8,-28.5 L-39.6,-26.6 L-41.2,-24.7 L-42.8,-22.6 L-44.2,-20.5 L-45.6,-18.4 L-46.8,-16.3 L-47.8,-14.2 L-48.8,-12 L-49.6,-9.8 L-50.3,-7.6 L-50.8,-5.3 L-51.2,-3 L-51.5,-0.8 L-51.7,1.5 L-51.7,3.6 L-51.5,5.7 L-51.2,7.9 L-50.8,10 L-50.2,12 L-49.5,14.1 L-48.7,16 L-47.7,18 L-46.7,19.8 L-45.5,21.6 L-44.1,23.4 L-42.6,25.1 L-41,26.8 L-39.2,28.4 L-37.5,29.9 L-35.6,31.3 L-33.7,32.6 L-31.8,33.7 L-29.6,34.8 L-27.4,35.7 L-25.2,36.6 L-22.9,37.4 L-20.7,38 L-18.5,38.6 L-16.6,39 L-14.7,39.4 L-12.9,39.6 L-11.1,39.7 L-9.5,39.8 L-7.9,39.7 L-6.3,39.6 L-4.8,39.3 L-3.4,39.1 L-2.1,38.6 L-0.7,38 L0.6,37.2 L1.8,36.4 L2.9,35.6 L3.9,34.9 L4.7,34.2 L5.4,33.8 L4.7,29.6 L4.2,29.4 L3.5,29.2 L2.6,28.9 L1.7,28.5 L0.7,28.2 L-0.3,27.9 L-1.4,27.6 L-2.4,27.3 L-3.4,27.1 L-4.4,27 L-5.4,26.9 L-6.5,26.8 L-7.6,26.7 L-8.7,26.6 L-9.9,26.4 L-11.1,26.1 L-12.3,25.6 L-13.7,25.1 L-15.1,24.6 L-16.5,24 L-17.9,23.3 L-19.3,22.6 L-20.6,21.9 L-21.8,21 L-22.9,20.2 L-24,19.2 L-25.1,18.2 L-26.1,17.1 L-27,16 L-27.9,14.8 L-28.7,13.7 L-29.5,12.5 L-30.1,11.3 L-30.8,10.1 L-31.3,8.9 L-31.8,7.7 L-32.3,6.4 L-32.7,5.1 L-33,3.7 L-33.3,2.3 L-33.6,0.9 L-33.8,-0.6 L-34,-2.1 L-34.1,-3.6 L-34.1,-5.2 L-34.1,-6.7 L-33.9,-8.3 L-33.7,-10 L-33.3,-11.6 L-32.9,-13.4 L-32.4,-15.1 L-31.8,-16.9 L-31.1,-18.7 L-30.3,-20.5 L-29.4,-22.2 L-28.3,-23.8 L-27.2,-25.4 L-25.9,-27 L-24.5,-28.5 L-23,-30.1 L-21.5,-31.5 L-19.8,-32.9 L-18.2,-34.1 L-16.4,-35.3 L-14.5,-36.2 L-12.4,-37.1 L-10.1,-37.9 L-7.8,-38.5 L-5.6,-39.1 L-3.6,-39.6 L-1.9,-40 L-0.7,-40.4Z" fill="#fff"/>
<path d="M-19.2,-33.3 L-18.6,-33.8 L-17.8,-34.5 L-16.8,-35.3 L-15.7,-36.1 L-14.4,-37 L-13.2,-37.8 L-11.8,-38.6 L-10.5,-39.1 L-9.1,-39.6 L-7.7,-40.1 L-6.2,-40.5 L-4.7,-40.8 L-3.1,-41.1 L-1.4,-41.2 L0.3,-41.1 L2.1,-40.8 L4.1,-40.3 L6.2,-39.6 L8.4,-38.7 L10.7,-37.7 L12.9,-36.6 L15.1,-35.4 L17.2,-34.1 L19,-32.9 L20.7,-31.7 L22.2,-30.4 L23.6,-29.1 L25,-27.7 L26.2,-26.3 L27.4,-24.8 L28.5,-23.2 L29.6,-21.5 L30.6,-19.7 L31.6,-17.7 L32.5,-15.7 L33.3,-13.6 L34.1,-11.4 L34.8,-9.2 L35.4,-7.1 L35.9,-5.1 L36.4,-3 L36.8,-1.1 L37.2,0.9 L37.5,2.9 L37.7,4.8 L37.8,6.8 L37.7,8.8 L37.6,10.8 L37.3,12.8 L37,15 L36.5,17.1 L35.9,19.3 L35.2,21.4 L34.4,23.5 L33.6,25.5 L32.6,27.3 L31.4,29.1 L30.1,30.7 L28.8,32.3 L27.3,33.8 L25.7,35.2 L24.1,36.6 L22.4,37.9 L20.8,39.1 L19,40.3 L17.1,41.4 L15,42.4 L12.9,43.4 L10.9,44.3 L9.1,45.1 L7.6,45.7 L6.5,46.2 L6.2,44.1 L7.1,43.2 L8.3,42 L9.7,40.6 L11.3,39.1 L13,37.5 L14.6,35.8 L16.1,34.2 L17.4,32.7 L18.5,31.2 L19.6,29.8 L20.7,28.3 L21.7,26.9 L22.7,25.4 L23.5,23.9 L24.3,22.4 L24.9,20.9 L25.4,19.3 L25.8,17.6 L26,15.9 L26.2,14.2 L26.3,12.5 L26.4,10.8 L26.5,9.2 L26.5,7.6 L26.6,6.1 L26.6,4.7 L26.6,3.3 L26.5,2 L26.4,0.6 L26.3,-0.8 L26.1,-2.2 L25.8,-3.6 L25.6,-5.2 L25.3,-6.8 L25,-8.4 L24.6,-10.1 L24.2,-11.7 L23.7,-13.4 L23.1,-14.9 L22.5,-16.3 L21.8,-17.7 L21,-19.1 L20.2,-20.4 L19.3,-21.7 L18.4,-22.9 L17.3,-24 L16.2,-25 L15,-25.9 L13.5,-26.6 L11.9,-27.2 L10.2,-27.7 L8.4,-28.1 L6.6,-28.4 L4.8,-28.7 L3.1,-29 L1.5,-29.4 L0.1,-29.7 L-1.2,-30.1 L-2.5,-30.5 L-3.7,-30.8 L-4.9,-31.1 L-6.1,-31.4 L-7.3,-31.7 L-8.5,-31.9 L-9.9,-32 L-11.3,-32.2 L-12.8,-32.3 L-14.3,-32.3 L-15.7,-32.4 L-16.9,-32.4 L-18,-32.4 L-18.7,-32.5Z" fill="#fff"/>
<path d="M-17.4,-6.3 L-17.4,-6.9 L-17.5,-7.7 L-17.6,-8.6 L-17.6,-9.7 L-17.7,-10.8 L-17.6,-11.9 L-17.3,-13.1 L-16.9,-14.1 L-16.2,-15.2 L-15.4,-16.4 L-14.4,-17.7 L-13.4,-18.9 L-12.2,-20.1 L-11,-21.3 L-9.7,-22.2 L-8.4,-23 L-7,-23.7 L-5.5,-24.2 L-3.8,-24.7 L-2.2,-25 L-0.5,-25.2 L1.2,-25.3 L2.9,-25.3 L4.4,-25.1 L6,-24.8 L7.5,-24.3 L9.1,-23.7 L10.6,-22.9 L12.1,-22.1 L13.5,-21.2 L14.9,-20.2 L16.1,-19.2 L17.2,-18 L18.2,-16.7 L19.2,-15.3 L20.1,-13.8 L20.9,-12.3 L21.5,-10.9 L22.1,-9.5 L22.6,-8.2 L22.8,-7 L22.9,-5.8 L22.8,-4.6 L22.7,-3.4 L22.5,-2.4 L22.3,-1.4 L22.1,-0.6 L22,0 L21,0 L20.8,-0.5 L20.5,-1.2 L20.2,-1.9 L19.8,-2.8 L19.4,-3.7 L19,-4.7 L18.4,-5.6 L17.9,-6.5 L17.2,-7.4 L16.5,-8.3 L15.7,-9.2 L14.9,-10.1 L14,-11.1 L13.1,-11.9 L12.2,-12.7 L11.2,-13.4 L10.3,-14 L9.3,-14.6 L8.3,-15.1 L7.2,-15.6 L6.2,-16 L5.1,-16.3 L4,-16.6 L3,-16.7 L1.9,-16.8 L0.8,-16.8 L-0.3,-16.8 L-1.4,-16.6 L-2.5,-16.4 L-3.6,-16.2 L-4.6,-15.9 L-5.6,-15.5 L-6.6,-15.1 L-7.7,-14.6 L-8.7,-14 L-9.6,-13.4 L-10.6,-12.8 L-11.5,-12.2 L-12.3,-11.5 L-13,-10.9 L-13.7,-10.3 L-14.3,-9.6 L-14.9,-8.9 L-15.4,-8.3 L-15.9,-7.6 L-16.3,-7 L-16.6,-6.5 L-16.9,-6.2Z" fill="#fff"/>
<path d="M19.7,7.2 L19.5,8.1 L19.2,9.4 L18.9,10.9 L18.5,12.6 L18,14.2 L17.4,15.9 L16.5,17.3 L15.4,18.4 L14,19.3 L12.3,20 L10.4,20.7 L8.3,21.2 L6.2,21.6 L4,21.9 L1.9,22 L0,22 L-1.9,21.8 L-3.8,21.5 L-5.7,21 L-7.5,20.3 L-9.3,19.6 L-11.1,18.7 L-12.7,17.8 L-14.1,16.9 L-15.5,15.7 L-16.8,14.5 L-17.9,13.1 L-19,11.6 L-20,10.1 L-20.9,8.6 L-21.6,7.2 L-22.2,6 L-22.7,4.8 L-22.9,3.6 L-23,2.4 L-23.1,1.3 L-23,0.3 L-23,-0.6 L-22.9,-1.4 L-22.9,-2 L-20.9,-1.8 L-20.7,-1.3 L-20.4,-0.7 L-20,0.1 L-19.6,1 L-19.2,1.9 L-18.6,2.9 L-18.1,3.8 L-17.4,4.7 L-16.6,5.5 L-15.8,6.4 L-14.9,7.3 L-13.9,8.3 L-12.9,9.2 L-11.8,10 L-10.7,10.8 L-9.6,11.5 L-8.5,12.1 L-7.4,12.7 L-6.2,13.3 L-5,13.8 L-3.7,14.3 L-2.5,14.6 L-1.2,14.9 L0,15 L1.3,15 L2.6,14.8 L3.9,14.5 L5.2,14.2 L6.5,13.7 L7.8,13.3 L9.1,12.8 L10.3,12.3 L11.5,11.7 L12.8,11 L14.1,10.2 L15.4,9.5 L16.6,8.7 L17.7,8 L18.6,7.4 L19.3,7Z" fill="#fff" fill-opacity="0.75"/>
</g>
<use href="#tyarms"/>
</g>
<g transform="translate(1136.6,177.3)">
<g filter="url(#soft)">
<path d="M-23.4,-29.9 L-22.6,-30.6 L-21.4,-31.5 L-20.1,-32.6 L-18.7,-33.9 L-17.1,-35.1 L-15.5,-36.2 L-13.9,-37.3 L-12.4,-38 L-10.9,-38.7 L-9.5,-39.2 L-8.2,-39.6 L-6.8,-40 L-5.3,-40.3 L-3.7,-40.4 L-1.9,-40.4 L0,-40.3 L2.2,-40.1 L4.6,-39.7 L7.2,-39.3 L9.9,-38.7 L12.6,-38 L15.3,-37.2 L17.9,-36.2 L20.3,-35.1 L22.5,-33.8 L24.7,-32.3 L26.9,-30.7 L29,-28.9 L30.9,-27 L32.8,-25 L34.4,-22.9 L35.9,-20.7 L37.3,-18.5 L38.5,-16 L39.6,-13.5 L40.5,-10.9 L41.2,-8.2 L41.8,-5.4 L42.3,-2.7 L42.5,0 L42.6,2.7 L42.4,5.5 L42.1,8.4 L41.7,11.2 L41.1,14.1 L40.2,16.8 L39.3,19.5 L38.1,22 L36.7,24.4 L35.2,26.8 L33.4,29.2 L31.4,31.5 L29.3,33.6 L27.1,35.6 L24.9,37.4 L22.5,39 L20,40.3 L17.4,41.6 L14.6,42.6 L11.7,43.5 L8.8,44.2 L5.8,44.8 L2.9,45.1 L0,45.2 L-2.9,45.1 L-5.8,44.8 L-8.7,44.3 L-11.7,43.6 L-14.6,42.8 L-17.4,41.7 L-20.1,40.6 L-22.6,39.2 L-25.1,37.7 L-27.5,36 L-29.8,34.1 L-32,32 L-34.1,29.9 L-36.1,27.6 L-37.8,25.2 L-39.4,22.7 L-40.8,20.2 L-42,17.3 L-43,14.4 L-43.9,11.3 L-44.7,8.3 L-45.3,5.3 L-45.7,2.5 L-46,0 L-46.1,-2.3 L-46,-4.5 L-45.7,-6.5 L-45.3,-8.5 L-44.8,-10.3 L-44.2,-12.1 L-43.5,-13.9 L-42.8,-15.6 L-42.1,-17.3 L-41.4,-19 L-40.5,-20.6 L-39.6,-22.1 L-38.6,-23.6 L-37.6,-25.1 L-36.5,-26.4 L-35.5,-27.7 L-34.3,-28.9 L-33,-30.2 L-31.6,-31.3 L-30.2,-32.4 L-28.9,-33.4 L-27.6,-34.3 L-26.6,-35 L-25.9,-35.6 L-24.9,-34.2 L-25.4,-33.5 L-26.1,-32.5 L-27,-31.4 L-27.9,-30.1 L-28.9,-28.8 L-29.9,-27.4 L-30.7,-26 L-31.5,-24.6 L-32.2,-23.3 L-32.9,-21.9 L-33.5,-20.5 L-34.1,-19.1 L-34.6,-17.6 L-35.1,-16.1 L-35.6,-14.6 L-36,-13.1 L-36.4,-11.6 L-36.7,-10.1 L-37.1,-8.5 L-37.4,-7 L-37.6,-5.4 L-37.7,-3.7 L-37.7,-1.9 L-37.5,0 L-37.2,2.1 L-36.7,4.3 L-36.2,6.7 L-35.5,9.2 L-34.7,11.6 L-33.8,14 L-32.8,16.2 L-31.6,18.2 L-30.3,20.1 L-28.7,21.9 L-27.1,23.6 L-25.3,25.2 L-23.4,26.7 L-21.5,28 L-19.5,29.2 L-17.5,30.3 L-15.5,31.2 L-13.3,32.1 L-11.2,32.8 L-8.9,33.3 L-6.7,33.8 L-4.4,34.1 L-2.2,34.2 L0,34.2 L2.2,34 L4.4,33.7 L6.6,33.3 L8.8,32.7 L10.9,32 L13,31.1 L15,30.2 L16.8,29.1 L18.6,27.9 L20.2,26.5 L21.9,25.1 L23.4,23.5 L24.9,21.8 L26.2,20 L27.4,18.2 L28.4,16.4 L29.3,14.5 L30.1,12.6 L30.8,10.5 L31.3,8.4 L31.7,6.3 L32,4.2 L32.2,2.1 L32.2,0 L32.1,-2.1 L31.9,-4.1 L31.5,-6.2 L31,-8.3 L30.4,-10.4 L29.7,-12.4 L28.9,-14.3 L28,-16.1 L26.9,-17.9 L25.8,-19.7 L24.5,-21.5 L23.1,-23.1 L21.6,-24.7 L20,-26.2 L18.4,-27.6 L16.7,-28.8 L14.8,-29.9 L12.7,-30.9 L10.5,-31.8 L8.3,-32.5 L6.1,-33.2 L3.9,-33.7 L1.8,-34.2 L0,-34.5 L-1.6,-34.7 L-3.1,-34.7 L-4.4,-34.7 L-5.7,-34.5 L-6.9,-34.3 L-8.2,-34 L-9.4,-33.6 L-10.8,-33.3 L-12.3,-32.9 L-14,-32.4 L-15.7,-31.8 L-17.5,-31.1 L-19.1,-30.5 L-20.6,-30 L-21.8,-29.5 L-22.8,-29.2Z" fill="#fff"/>
<path d="M-21.7,-12.5 L-21.2,-13.6 L-20.7,-15.1 L-20,-16.9 L-19.3,-18.9 L-18.4,-20.9 L-17.4,-22.9 L-16.3,-24.6 L-15,-26 L-13.5,-27.1 L-11.9,-28.1 L-10,-29.1 L-8.1,-29.8 L-6.1,-30.5 L-4,-31 L-2,-31.3 L0,-31.5 L2,-31.5 L4,-31.3 L6.1,-31 L8.1,-30.5 L10.1,-29.9 L12.1,-29.1 L14,-28.3 L15.8,-27.4 L17.5,-26.3 L19.2,-25.1 L20.8,-23.8 L22.3,-22.3 L23.8,-20.8 L25.1,-19.2 L26.3,-17.5 L27.4,-15.8 L28.3,-14 L29.1,-12.2 L29.8,-10.2 L30.4,-8.2 L30.9,-6.1 L31.3,-4.1 L31.5,-2 L31.6,0 L31.6,2 L31.4,4.1 L31.1,6.2 L30.7,8.3 L30.2,10.3 L29.5,12.3 L28.8,14.3 L27.9,16.1 L26.9,17.9 L25.7,19.6 L24.4,21.4 L23,23 L21.5,24.6 L19.9,26.1 L18.2,27.4 L16.5,28.6 L14.7,29.6 L12.7,30.6 L10.7,31.4 L8.6,32.1 L6.4,32.7 L4.3,33.2 L2.1,33.5 L0,33.6 L-2.1,33.6 L-4.3,33.4 L-6.6,33.1 L-8.8,32.6 L-11,32 L-13.1,31.3 L-15.1,30.4 L-17,29.4 L-18.8,28.3 L-20.6,27 L-22.3,25.5 L-23.9,23.9 L-25.4,22.2 L-26.8,20.4 L-28,18.6 L-29,16.7 L-29.9,14.8 L-30.5,12.7 L-31.1,10.5 L-31.5,8.2 L-31.7,6 L-31.9,3.8 L-32,1.8 L-32,0 L-31.9,-1.6 L-31.6,-3.2 L-31.3,-4.6 L-30.8,-5.9 L-30.3,-7.1 L-29.8,-8.3 L-29.2,-9.4 L-28.7,-10.4 L-28.1,-11.5 L-27.4,-12.4 L-26.7,-13.3 L-26,-14.2 L-25.3,-14.9 L-24.7,-15.6 L-24.1,-16.2 L-23.8,-16.6 L-22.9,-16.1 L-23,-15.5 L-23.1,-14.7 L-23.2,-13.8 L-23.2,-12.8 L-23.3,-11.8 L-23.4,-10.7 L-23.5,-9.6 L-23.5,-8.6 L-23.5,-7.6 L-23.5,-6.6 L-23.5,-5.6 L-23.4,-4.5 L-23.4,-3.5 L-23.3,-2.4 L-23.2,-1.2 L-23,0 L-22.8,1.3 L-22.6,2.8 L-22.4,4.3 L-22.2,5.8 L-21.9,7.4 L-21.5,8.9 L-21,10.4 L-20.4,11.7 L-19.6,13 L-18.8,14.3 L-17.8,15.6 L-16.8,16.8 L-15.6,17.9 L-14.5,19 L-13.3,20 L-12,20.8 L-10.7,21.5 L-9.2,22.2 L-7.7,22.7 L-6.2,23.2 L-4.6,23.6 L-3.1,23.8 L-1.5,24 L0,24 L1.5,23.9 L3,23.6 L4.5,23.2 L6,22.7 L7.5,22.1 L8.9,21.4 L10.2,20.7 L11.5,19.9 L12.7,19.1 L13.9,18.1 L15,17.1 L16.1,16 L17,14.9 L18,13.7 L18.8,12.5 L19.5,11.2 L20.1,10 L20.6,8.6 L21.1,7.2 L21.4,5.8 L21.7,4.3 L21.9,2.9 L22,1.4 L22,0 L21.9,-1.4 L21.8,-2.8 L21.5,-4.2 L21.2,-5.6 L20.7,-7 L20.2,-8.4 L19.7,-9.7 L19.1,-11 L18.4,-12.2 L17.6,-13.5 L16.7,-14.7 L15.8,-15.9 L14.8,-17 L13.8,-18.1 L12.7,-19 L11.5,-19.9 L10.3,-20.7 L8.9,-21.5 L7.5,-22.2 L6,-22.8 L4.5,-23.3 L3,-23.7 L1.5,-23.9 L0,-24 L-1.5,-23.9 L-2.9,-23.6 L-4.4,-23.2 L-5.9,-22.7 L-7.3,-22.1 L-8.8,-21.4 L-10.2,-20.7 L-11.5,-19.9 L-12.8,-19.1 L-14.2,-18 L-15.6,-16.9 L-16.9,-15.7 L-18.1,-14.6 L-19.2,-13.5 L-20.1,-12.6 L-20.8,-12Z" fill="#fff"/>
<path d="M-17.4,-6.3 L-17.3,-6.9 L-17.3,-7.6 L-17.3,-8.5 L-17.3,-9.5 L-17.2,-10.5 L-17,-11.5 L-16.6,-12.6 L-16.1,-13.5 L-15.4,-14.4 L-14.5,-15.4 L-13.5,-16.4 L-12.4,-17.4 L-11.3,-18.4 L-10,-19.3 L-8.8,-20 L-7.5,-20.7 L-6.2,-21.2 L-4.8,-21.6 L-3.4,-21.9 L-1.9,-22.2 L-0.4,-22.3 L1.1,-22.4 L2.5,-22.3 L3.9,-22.2 L5.3,-21.8 L6.6,-21.4 L8,-20.9 L9.4,-20.2 L10.7,-19.4 L11.9,-18.6 L13.1,-17.8 L14.1,-16.9 L15.1,-15.8 L16.1,-14.6 L17,-13.2 L17.8,-11.8 L18.6,-10.4 L19.2,-9.2 L19.8,-8.1 L20.2,-7.4 L17.9,-6.5 L17.4,-7.1 L16.7,-7.8 L15.9,-8.7 L15.1,-9.7 L14.1,-10.8 L13.2,-11.8 L12.2,-12.7 L11.2,-13.4 L10.3,-14 L9.3,-14.6 L8.3,-15.1 L7.2,-15.6 L6.2,-16 L5.1,-16.3 L4,-16.6 L3,-16.7 L1.9,-16.8 L0.8,-16.8 L-0.3,-16.8 L-1.4,-16.6 L-2.5,-16.4 L-3.6,-16.2 L-4.6,-15.9 L-5.6,-15.5 L-6.6,-15.1 L-7.7,-14.6 L-8.7,-14 L-9.6,-13.4 L-10.6,-12.8 L-11.5,-12.2 L-12.3,-11.5 L-13,-10.9 L-13.7,-10.3 L-14.3,-9.6 L-14.9,-8.9 L-15.4,-8.3 L-15.9,-7.6 L-16.3,-7 L-16.6,-6.5 L-16.9,-6.2Z" fill="#fff" fill-opacity="0.8"/>
<path d="M19.7,7.2 L19.4,8 L18.9,9 L18.4,10.3 L17.8,11.8 L17.1,13.2 L16.3,14.6 L15.3,15.8 L14.1,16.9 L12.8,17.7 L11.2,18.5 L9.4,19.2 L7.6,19.8 L5.6,20.4 L3.7,20.7 L1.8,21 L0,21 L-1.8,20.9 L-3.6,20.5 L-5.4,20.1 L-7.1,19.5 L-8.9,18.7 L-10.5,17.9 L-12.1,17 L-13.5,16.1 L-14.8,15 L-16,13.8 L-17.1,12.5 L-18.1,11.1 L-19.1,9.6 L-19.9,8.2 L-20.6,6.9 L-21.3,5.7 L-21.7,4.6 L-22,3.4 L-22.2,2.3 L-22.3,1.2 L-22.4,0.2 L-22.4,-0.6 L-22.4,-1.4 L-22.4,-2 L-20.9,-1.8 L-20.7,-1.3 L-20.4,-0.7 L-20,0.1 L-19.6,1 L-19.2,1.9 L-18.6,2.9 L-18.1,3.8 L-17.4,4.7 L-16.6,5.5 L-15.8,6.4 L-14.9,7.3 L-13.9,8.3 L-12.9,9.2 L-11.8,10 L-10.7,10.8 L-9.6,11.5 L-8.5,12.1 L-7.4,12.7 L-6.2,13.3 L-5,13.8 L-3.7,14.3 L-2.5,14.6 L-1.2,14.9 L0,15 L1.3,15 L2.6,14.8 L3.9,14.5 L5.2,14.2 L6.5,13.7 L7.8,13.3 L9.1,12.8 L10.3,12.3 L11.5,11.7 L12.8,11 L14.1,10.2 L15.4,9.5 L16.6,8.7 L17.7,8 L18.6,7.4 L19.3,7Z" fill="#fff" fill-opacity="0.6"/>
</g>
<use href="#tyarms"/>
</g>
<path d="M815.5,25.7C811.8,26.9 800.7,30.4 793.5,32.8C786.3,35.2 779.3,37.5 772.2,39.9C765.1,42.3 757.5,44.6 750.9,47C744.3,49.4 738.4,51.4 732.5,54C726.6,56.6 720.7,59.5 715.5,62.6C710.3,65.7 705.2,69.4 701.3,72.5C697.4,75.6 694.2,78.4 692.1,81C690,83.6 689,85.7 688.8,88.1C688.5,90.5 689.2,92.8 690.6,95.2C692,97.6 694,99.9 697,102.3C700,104.7 704.1,107.4 708.4,109.4C712.7,111.4 717.4,113 722.6,114.3C727.8,115.6 733.5,116.5 739.6,117.2C745.7,117.9 752.8,118.2 759.4,118.3C766,118.4 772.4,118.2 779.3,117.9C786.2,117.6 793.5,117 800.6,116.5C807.7,116 814.4,115.5 821.8,115C829.2,114.5 841.3,113.8 845.2,113.6" fill="none" stroke="#0d0d0d" stroke-width="1.9" stroke-linecap="round"/>
<path d="M1037.4,44.9C1034.4,45.9 1025.6,48.6 1019.3,50.6C1013,52.6 1006,54.9 999.4,57C992.8,59.1 985.7,61.3 979.6,63.4C973.5,65.5 968,67.4 962.6,69.8C957.2,72.2 951.5,75 947,77.6C942.5,80.2 938.6,83.1 935.6,85.4C932.6,87.8 930.3,89.6 929.2,91.7C928.1,93.8 928.1,96 929.2,98.1C930.3,100.2 932.6,102.5 935.6,104.5C938.6,106.5 942.8,108.5 947,110.2C951.2,111.9 956.1,113.3 961.1,114.4C966.1,115.5 971.2,116.5 976.7,117C982.2,117.5 987.9,117.7 993.8,117.7C999.7,117.7 1005.6,117.3 1012.2,117C1018.8,116.7 1025,116.4 1033.5,115.9C1042,115.4 1058.5,114.4 1063.5,114.1" fill="none" stroke="#0d0d0d" stroke-width="1.9" stroke-linecap="round"/>
<path d="M1215.2,65.9C1212.6,66.8 1205,69.4 1199.6,71.2C1194.2,73 1188.3,75 1182.6,76.9C1176.9,78.8 1171,80.6 1165.6,82.6C1160.2,84.6 1154.7,86.8 1150,89C1145.3,91.2 1140.4,94 1137.2,96.1C1134,98.2 1131.9,99.9 1130.8,101.7C1129.7,103.5 1130,105 1130.8,106.7C1131.6,108.4 1133.3,110.1 1135.8,111.7C1138.3,113.3 1142.2,115.2 1145.7,116.6C1149.2,118 1153.1,119.3 1157.1,120.2C1161.1,121.1 1165.7,121.7 1169.9,122C1174.2,122.3 1177.6,122.4 1182.6,122.3C1187.5,122.2 1193.9,121.6 1199.6,121.3C1205.3,121 1210.8,120.8 1216.7,120.5C1222.6,120.2 1232,119.9 1235.1,119.8" fill="none" stroke="#0d0d0d" stroke-width="1.9" stroke-linecap="round"/>
<text x="729.9" y="86.9" font-size="17.9" fill="#0d0d0d" stroke="#0d0d0d" stroke-width="0.3" transform="translate(0,7.38) scale(1,0.915)">WNPSH</text>
<text x="800.6" y="241.3" font-size="17.9" fill="#0d0d0d" stroke="#0d0d0d" stroke-width="0.3" transform="translate(0,20.51) scale(1,0.915)">Low-level</text>
<text x="779.2" y="260.8" font-size="17.9" fill="#0d0d0d" stroke="#0d0d0d" stroke-width="0.3" transform="translate(0,22.16) scale(1,0.915)">warm moisture</text>
<path d="M811.8,218.6 L786.2,201.5" stroke="#0d0d0d" stroke-width="1.9" fill="none"/>
<path d="M799,204 L788.1,202.7 L793.4,212.3" fill="none" stroke="#0d0d0d" stroke-width="2.4" stroke-linejoin="miter" stroke-linecap="butt"/>
<path d="M865.6,220 L888.5,203.4" stroke="#0d0d0d" stroke-width="1.9" fill="none"/>
<path d="M881.7,214.5 L886.7,204.7 L875.8,206.4" fill="none" stroke="#0d0d0d" stroke-width="2.4" stroke-linejoin="miter" stroke-linecap="butt"/>
<text x="970.3" y="256.3" font-size="17.9" fill="#0d0d0d" stroke="#0d0d0d" stroke-width="0.3" transform="translate(0,21.79) scale(1,0.915)">Spiral&#160;&#160;<tspan dx="1.5">rainband</tspan></text>
<path d="M991.1,233.8 L966.2,207.6" stroke="#0d0d0d" stroke-width="1.9" fill="none"/>
<path d="M978.1,212.9 L967.7,209.2 L970.9,219.8" fill="none" stroke="#0d0d0d" stroke-width="2.4" stroke-linejoin="miter" stroke-linecap="butt"/>
<path d="M1083.5,239.3 L1095.9,192.4" stroke="#0d0d0d" stroke-width="1.9" fill="none"/>
<path d="M1097.6,205.3 L1095.3,194.6 L1088,202.8" fill="none" stroke="#0d0d0d" stroke-width="2.4" stroke-linejoin="miter" stroke-linecap="butt"/>
<path d="M713.3,335.5C717.4,338.6 729.5,347.8 738,354.2C746.5,360.6 754.6,368.1 764,373.7C773.4,379.3 784.3,384.1 794.4,387.6C804.5,391.1 817.5,393.9 824.7,394.5C831.9,395.1 832.7,394.1 837.7,391C842.8,387.9 849.2,381.1 855,375.9C860.8,370.7 866.6,363.6 872.4,359.8C878.2,356 883.2,353.3 889.7,353.3C896.2,353.3 903.5,356.8 911.4,359.8C919.3,362.8 928,366.5 937.4,371.5C946.8,376.5 958.4,384.1 967.8,389.7C977.2,395.3 986.6,401.8 993.8,404.9C1001,408 1004.6,408.5 1011.1,408.4C1017.6,408.2 1023.4,407.6 1032.8,404C1042.2,400.4 1054.5,394.3 1067.5,386.7C1080.5,379.1 1097.1,367.5 1110.8,358.5C1124.5,349.5 1137.5,339.4 1149.8,332.5C1162.1,325.6 1178.7,319.8 1184.5,317.3" fill="none" stroke="#2bc3ea" stroke-width="3.9" stroke-linecap="butt"/>
<path d="M713.3,450.4C717.4,452 729.5,457.6 738,460.3C746.5,463 754.6,464.9 764,466.4C773.4,467.8 785,467.9 794.4,469C803.8,470.1 813.2,470.8 820.4,473.3C827.6,475.8 833,479.1 837.7,484.2C842.4,489.3 845.2,497.8 848.5,503.7C851.8,509.6 853.9,515.5 857.2,519.7C860.5,523.9 864.1,526.5 868.1,528.8C872.1,531.1 876.1,534 881.1,533.6C886.1,533.2 892.6,529 898.4,526.2C904.2,523.4 910.7,519 915.7,516.7C920.8,514.4 924.4,512.4 928.7,512.4C933,512.4 936.6,514.2 941.7,516.7C946.8,519.2 953.8,524.6 959.1,527.5C964.4,530.4 968.4,533.8 973.4,534C978.4,534.2 982.4,531.7 989.4,528.8C996.4,525.9 1007.5,520 1015.4,516.7C1023.3,513.5 1030.6,510.8 1037.1,509.3C1043.6,507.9 1048.6,507.1 1054.4,508C1060.2,508.9 1064.6,511.2 1071.8,514.5C1079,517.8 1089.5,524.2 1097.8,527.5C1106.1,530.8 1115.1,533.6 1121.6,534C1128.1,534.4 1129.9,532.7 1136.8,529.7C1143.7,526.7 1154.8,519.8 1162.8,515.8C1170.8,511.8 1180.9,507.5 1184.5,505.9" fill="none" stroke="#2bc3ea" stroke-width="3.9" stroke-linecap="butt"/>
<text x="7.2" y="641.2" font-size="46" fill="#0d0d0d" letter-spacing="2.5">(c)</text>
<use href="#drop" x="76.7" y="835.9"/>
<use href="#drop" x="89" y="834"/>
<use href="#drop" x="95.6" y="836.2"/>
<use href="#drop" x="103.2" y="831.8"/>
<use href="#drop" x="111.4" y="830.8"/>
<use href="#drop" x="111.4" y="841.6"/>
<use href="#drop" x="80.2" y="848.5"/>
<use href="#drop" x="90.3" y="847.2"/>
<use href="#drop" x="97.2" y="847.2"/>
<use href="#drop" x="104.5" y="848.5"/>
<use href="#drop" x="117.4" y="849.8"/>
<use href="#drop" x="111.4" y="854.8"/>
<use href="#drop" x="83.7" y="863.6"/>
<use href="#drop" x="90" y="859.2"/>
<use href="#drop" x="96.9" y="858"/>
<use href="#drop" x="102.3" y="863.6"/>
<use href="#drop" x="108.9" y="864.3"/>
<use href="#drop" x="117.4" y="864.3"/>
<use href="#house" x="103.8" y="869.3"/>
<use href="#dropS" x="297.3" y="829.6"/>
<use href="#dropS" x="304.6" y="832.7"/>
<use href="#dropS" x="309" y="838.4"/>
<use href="#dropS" x="295.1" y="838.1"/>
<use href="#dropS" x="301.7" y="843.8"/>
<use href="#dropS" x="295.7" y="851.7"/>
<use href="#dropS" x="302" y="853.2"/>
<use href="#dropS" x="309.6" y="852.3"/>
<use href="#dropS" x="309.6" y="860.5"/>
<use href="#dropS" x="296" y="863.3"/>
<use href="#dropS" x="303.6" y="865.2"/>
<use href="#house" x="303.6" y="869.3"/>
<use href="#drop" x="472.4" y="835.9"/>
<use href="#drop" x="484.7" y="834"/>
<use href="#drop" x="491.3" y="836.2"/>
<use href="#drop" x="498.9" y="831.8"/>
<use href="#drop" x="507.1" y="830.8"/>
<use href="#drop" x="507.1" y="841.6"/>
<use href="#drop" x="475.9" y="848.5"/>
<use href="#drop" x="486" y="847.2"/>
<use href="#drop" x="492.9" y="847.2"/>
<use href="#drop" x="500.2" y="848.5"/>
<use href="#drop" x="513.1" y="849.8"/>
<use href="#drop" x="507.1" y="854.8"/>
<use href="#drop" x="479.4" y="863.6"/>
<use href="#drop" x="485.7" y="859.2"/>
<use href="#drop" x="492.6" y="858"/>
<use href="#drop" x="498" y="863.6"/>
<use href="#drop" x="504.6" y="864.3"/>
<use href="#drop" x="513.1" y="864.3"/>
<use href="#house" x="499" y="869.3"/>
<rect x="73.8" y="884.8" width="178.8" height="14" fill="#fa6cb0" stroke="#3a2420" stroke-width="0.9"/>
<text x="156.9" y="896" font-size="13.2" text-anchor="middle" font-style="italic" fill="#170a26" stroke="#170a26" stroke-width="0.25" letter-spacing="0.3">Stage 1</text>
<rect x="252.6" y="884.8" width="102.9" height="14" fill="#cd89f0" stroke="#3a2420" stroke-width="0.9"/>
<text x="305.8" y="896" font-size="13.2" text-anchor="middle" font-style="italic" fill="#170a26" stroke="#170a26" stroke-width="0.25" letter-spacing="0.3">Stage 2</text>
<rect x="355.5" y="884.8" width="193.1" height="14" fill="#22ce35" stroke="#3a2420" stroke-width="0.9"/>
<text x="458.7" y="896" font-size="13.2" text-anchor="middle" font-style="italic" fill="#170a26" stroke="#170a26" stroke-width="0.25" letter-spacing="0.3">Stage 3</text>
<path d="M52.5,910.2 V1015.9 H577.5" fill="none" stroke="#3a3130" stroke-width="1.7"/>
<path d="M59.4,921.6 L52.5,911 L45.6,921.6" fill="none" stroke="#3a3130" stroke-width="2.3" stroke-linejoin="miter" stroke-linecap="butt"/>
<path d="M566.2,1022.8 L576.8,1015.9 L566.2,1009" fill="none" stroke="#3a3130" stroke-width="2.3" stroke-linejoin="miter" stroke-linecap="butt"/>
<path d="M52.5,1041.5 V1147.3 H577.5" fill="none" stroke="#3a3130" stroke-width="1.7"/>
<path d="M59.4,1052.9 L52.5,1042.3 L45.6,1052.9" fill="none" stroke="#3a3130" stroke-width="2.3" stroke-linejoin="miter" stroke-linecap="butt"/>
<path d="M566.2,1154.2 L576.8,1147.3 L566.2,1140.4" fill="none" stroke="#3a3130" stroke-width="2.3" stroke-linejoin="miter" stroke-linecap="butt"/>
<text x="4" y="968.5" font-size="27" fill="#0d0d0d" stroke="#0d0d0d" stroke-width="0.35">δ<tspan font-size="12.6" dy="4.4" dx="0.6">vapor</tspan></text>
<text x="3.7" y="1099.3" font-size="24.4" fill="#0d0d0d" stroke="#0d0d0d" stroke-width="0.35">d<tspan font-size="12.6" dy="4.8" dx="1.5">vapor</tspan></text>
<text x="303.5" y="1179.8" font-size="26.2" text-anchor="middle" letter-spacing="1.0" fill="#0d0d0d" stroke="#0d0d0d" stroke-width="0.2">Time</text>
<path d="M115.8,611.8C114.2,614.8 108.8,623.9 106,630C103.2,636.1 101,642.7 99,648.5C97,654.3 95.2,659.5 94,665C92.8,670.5 92,676.3 91.7,681.5C91.5,686.7 91.6,691.4 92.5,696C93.4,700.6 95,705.4 97.2,709.2C99.5,713 102.5,716.2 106,719C109.5,721.8 113.8,724.1 118,725.7C122.2,727.3 126.7,728 131,728.6C135.3,729.2 139.2,729.5 144,729.2C148.8,728.9 154.8,728.3 160,727C165.2,725.7 170.2,723.7 175.2,721.4C180.2,719.1 185.1,716.2 190,713C194.9,709.8 199.9,706 204.7,702.3C209.5,698.5 214.3,694.5 219,690.5C223.7,686.5 230.7,680.1 233,678" fill="none" stroke="#0d0d0d" stroke-width="1.7" stroke-linecap="round"/>
<path d="M131.5,632.4C130.1,634.7 125.5,641.6 123,646C120.5,650.4 118.3,654.8 116.3,659C114.3,663.2 112.3,667.5 111,671.5C109.7,675.5 108.8,679.6 108.5,683.2C108.2,686.8 108.3,690.1 109,693C109.7,695.9 111,698.4 112.8,700.6C114.6,702.9 117.1,704.9 120,706.5C122.9,708.1 126.8,709.4 130.2,710.1C133.6,710.8 137,710.8 140.5,710.5C144,710.2 147.2,709.5 151,708.4C154.8,707.3 159,705.7 163,703.8C167,701.9 171.1,699.6 175.2,697.1C179.3,694.6 183.4,691.6 187.5,688.5C191.6,685.4 197.5,680.1 199.5,678.4" fill="none" stroke="#0d0d0d" stroke-width="1.7" stroke-linecap="round"/>
<ellipse cx="140.2" cy="679.4" rx="19.3" ry="20.2" fill="none" stroke="#0d0d0d" stroke-width="1.7"/>
<path d="M308.9,609.1C307.3,612.1 301.9,621.2 299.1,627.3C296.3,633.4 294.1,640 292.1,645.8C290.1,651.6 288.3,656.8 287.1,662.3C285.9,667.8 285.1,673.6 284.8,678.8C284.6,684 284.7,688.7 285.6,693.3C286.5,697.9 288.1,702.7 290.3,706.5C292.6,710.3 295.6,713.5 299.1,716.3C302.6,719 306.9,721.4 311.1,723C315.3,724.6 319.8,725.3 324.1,725.9C328.4,726.5 332.3,726.8 337.1,726.5C341.9,726.2 347.9,725.6 353.1,724.3C358.3,723 363.3,721 368.3,718.7C373.3,716.4 378.2,713.5 383.1,710.3C388,707.1 393,703.3 397.8,699.6C402.6,695.8 407.4,691.8 412.1,687.8C416.8,683.8 423.8,677.4 426.1,675.3" fill="none" stroke="#0d0d0d" stroke-width="1.7" stroke-linecap="round"/>
<path d="M324.6,629.7C323.2,632 318.6,638.9 316.1,643.3C313.6,647.7 311.4,652 309.4,656.3C307.4,660.5 305.4,664.8 304.1,668.8C302.8,672.8 301.9,676.9 301.6,680.5C301.3,684.1 301.4,687.4 302.1,690.3C302.8,693.2 304.1,695.6 305.9,697.9C307.7,700.1 310.2,702.2 313.1,703.8C316,705.4 319.9,706.7 323.3,707.4C326.7,708.1 330.1,708.1 333.6,707.8C337.1,707.5 340.4,706.8 344.1,705.7C347.9,704.6 352.1,703 356.1,701.1C360.1,699.2 364.2,696.9 368.3,694.4C372.4,691.9 376.6,688.9 380.6,685.8C384.7,682.7 390.6,677.4 392.6,675.7" fill="none" stroke="#0d0d0d" stroke-width="1.7" stroke-linecap="round"/>
<ellipse cx="333.3" cy="676.7" rx="19.3" ry="20.2" fill="none" stroke="#0d0d0d" stroke-width="1.7"/>
<path d="M494.3,609.8C492.7,612.8 487.3,621.9 484.5,628C481.7,634.1 479.5,640.7 477.5,646.5C475.5,652.3 473.7,657.5 472.5,663C471.3,668.5 470.4,674.3 470.2,679.5C469.9,684.7 470.1,689.4 471,694C471.9,698.6 473.4,703.4 475.7,707.2C477.9,711 481,714.2 484.5,717C488,719.8 492.3,722.1 496.5,723.7C500.7,725.3 505.2,726 509.5,726.6C513.8,727.2 517.7,727.5 522.5,727.2C527.3,726.9 533.3,726.3 538.5,725C543.7,723.7 548.7,721.7 553.7,719.4C558.7,717.1 563.6,714.2 568.5,711C573.4,707.8 578.4,704 583.2,700.3C588,696.5 592.8,692.5 597.5,688.5C602.2,684.5 609.2,678.1 611.5,676" fill="none" stroke="#0d0d0d" stroke-width="1.7" stroke-linecap="round"/>
<path d="M510,630.4C508.6,632.7 504,639.6 501.5,644C499,648.4 496.8,652.8 494.8,657C492.8,661.2 490.8,665.5 489.5,669.5C488.2,673.5 487.3,677.6 487,681.2C486.7,684.8 486.8,688.1 487.5,691C488.2,693.9 489.5,696.4 491.3,698.6C493.1,700.9 495.6,702.9 498.5,704.5C501.4,706.1 505.3,707.4 508.7,708.1C512.1,708.8 515.5,708.8 519,708.5C522.5,708.2 525.8,707.5 529.5,706.4C533.2,705.3 537.5,703.7 541.5,701.8C545.5,699.9 549.6,697.6 553.7,695.1C557.8,692.6 562,689.6 566,686.5C570,683.4 576,678.1 578,676.4" fill="none" stroke="#0d0d0d" stroke-width="1.7" stroke-linecap="round"/>
<ellipse cx="518.7" cy="677.4" rx="19.3" ry="20.2" fill="none" stroke="#0d0d0d" stroke-width="1.7"/>
<path d="M220.5,751.1C217.2,752 207.1,754.6 200.6,756.3C194.1,758 188,759.4 181.7,761.1C175.4,762.8 168,764.8 162.8,766.7C157.6,768.6 154.1,770 150.5,772.4C146.9,774.8 143.6,778.2 141.1,780.9C138.6,783.6 136.6,786.3 135.4,788.5C134.2,790.7 134,792 134,794.2C134,796.4 134.4,798.9 135.4,801.7C136.4,804.5 137.9,808.1 140.1,811.2C142.3,814.4 145.3,817.8 148.6,820.6C151.9,823.4 156.1,826.1 160,828.2C163.9,830.3 167.1,831.8 172.3,833.4C177.5,835 184.9,836.5 191.2,837.7C197.5,838.9 202.4,839.5 210.1,840.5C217.8,841.5 232.9,843.2 237.5,843.8" fill="none" stroke="#0d0d0d" stroke-width="1.8" stroke-linecap="round"/>
<path d="M396.5,752.1C393.2,753 383.1,755.6 376.6,757.3C370.1,759 364,760.4 357.7,762.1C351.4,763.8 344,765.8 338.8,767.7C333.6,769.6 330.1,771 326.5,773.4C322.9,775.8 319.6,779.2 317.1,781.9C314.6,784.6 312.6,787.3 311.4,789.5C310.2,791.7 310,793 310,795.2C310,797.4 310.4,799.9 311.4,802.7C312.4,805.5 313.9,809.1 316.1,812.2C318.3,815.4 321.3,818.8 324.6,821.6C327.9,824.4 332.1,827.1 336,829.2C339.9,831.3 343.1,832.8 348.3,834.4C353.5,836 360.9,837.5 367.2,838.7C373.5,839.9 378.4,840.5 386.1,841.5C393.8,842.5 408.9,844.2 413.5,844.8" fill="none" stroke="#0d0d0d" stroke-width="1.8" stroke-linecap="round"/>
<path d="M593.4,751.1C590.1,752 580,754.6 573.5,756.3C567,758 560.9,759.4 554.6,761.1C548.3,762.8 540.9,764.8 535.7,766.7C530.5,768.6 527,770 523.4,772.4C519.8,774.8 516.5,778.2 514,780.9C511.5,783.6 509.5,786.3 508.3,788.5C507.1,790.7 506.9,792 506.9,794.2C506.9,796.4 507.3,798.9 508.3,801.7C509.3,804.5 510.8,808.1 513,811.2C515.2,814.4 518.2,817.8 521.5,820.6C524.8,823.4 528.9,826.1 532.9,828.2C536.9,830.3 540,831.8 545.2,833.4C550.4,835 557.8,836.5 564.1,837.7C570.4,838.9 575.3,839.5 583,840.5C590.7,841.5 605.8,843.2 610.4,843.8" fill="none" stroke="#0d0d0d" stroke-width="1.8" stroke-linecap="round"/>
<path d="M133.4,666.5 L132.7,666.8 L131.8,667.1 L130.7,667.6 L129.5,668.1 L128.2,668.6 L126.8,669.2 L125.4,669.9 L124.1,670.6 L122.7,671.2 L121.5,672 L120.4,672.7 L119.4,673.4 L118.3,674.2 L117.3,675 L116.3,675.8 L115.3,676.6 L114.4,677.5 L113.4,678.4 L112.4,679.3 L111.5,680.2 L110.6,681.2 L109.6,682.2 L108.6,683.2 L107.7,684.2 L106.8,685.3 L105.8,686.4 L104.9,687.5 L104.1,688.7 L103.2,689.8 L102.5,691 L101.7,692.2 L101,693.4 L100.3,694.7 L99.6,696 L98.9,697.3 L98.3,698.6 L97.8,699.8 L97.3,701.1 L96.8,702.2 L96.3,703.4 L96,704.4 L95.6,705.5 L95.3,706.4 L95.1,707.4 L94.9,708.4 L94.7,709.3 L94.6,710.2 L94.5,711.1 L94.4,712 L94.3,712.9 L94.3,713.8 L94.3,714.8 L94.3,715.7 L94.4,716.6 L94.5,717.5 L94.7,718.3 L94.8,719.2 L95,720.1 L95.2,720.9 L95.3,721.8 L95.6,722.7 L95.8,723.7 L96,724.6 L96.3,725.6 L96.6,726.5 L96.9,727.5 L97.2,728.4 L97.5,729.4 L97.9,730.3 L98.2,731.2 L98.6,732.1 L98.9,733 L99.3,733.9 L99.7,734.7 L100.1,735.6 L100.5,736.5 L101,737.4 L101.5,738.2 L102,739.1 L102.6,739.9 L103.2,740.7 L103.9,741.5 L104.7,742.2 L105.5,743 L106.3,743.6 L107.1,744.3 L107.8,744.8 L108.4,745.3 L108.9,745.7 L109.2,746.1 L111.8,743.1 L111.4,742.8 L110.8,742.3 L110.2,741.8 L109.5,741.3 L108.8,740.7 L108.1,740.1 L107.4,739.4 L106.7,738.8 L106.1,738.1 L105.6,737.5 L105.2,736.9 L104.8,736.2 L104.3,735.5 L103.9,734.8 L103.6,734 L103.2,733.2 L102.8,732.3 L102.5,731.5 L102.1,730.6 L101.8,729.8 L101.5,728.9 L101.1,728.1 L100.8,727.2 L100.5,726.3 L100.2,725.4 L100,724.5 L99.7,723.6 L99.5,722.7 L99.3,721.8 L99.1,721 L98.9,720.1 L98.7,719.3 L98.5,718.5 L98.4,717.7 L98.3,716.9 L98.2,716.2 L98.1,715.4 L98.1,714.6 L98.1,713.9 L98.1,713.1 L98.1,712.3 L98.2,711.5 L98.3,710.7 L98.4,709.9 L98.6,709.1 L98.7,708.3 L98.9,707.4 L99.2,706.6 L99.5,705.6 L99.9,704.6 L100.3,703.6 L100.7,702.5 L101.2,701.3 L101.7,700.1 L102.3,698.9 L102.9,697.7 L103.5,696.5 L104.2,695.3 L104.9,694.1 L105.5,693 L106.3,691.9 L107,690.9 L107.9,689.8 L108.7,688.7 L109.6,687.7 L110.5,686.7 L111.4,685.7 L112.3,684.7 L113.2,683.7 L114.1,682.8 L115,681.9 L115.9,681 L116.8,680.2 L117.7,679.4 L118.6,678.6 L119.6,677.8 L120.5,677.1 L121.5,676.4 L122.5,675.7 L123.5,675 L124.5,674.4 L125.7,673.8 L127,673.2 L128.3,672.5 L129.6,672 L130.9,671.4 L132.1,670.9 L133.2,670.5 L134.1,670.1 L134.8,669.7 Z" fill="#0a0af2"/>
<path d="M134.5,753.4 L108.5,754.3 L114.5,736.1 Z" fill="#0a0af2"/>
<path d="M325.1,663.7 L324.4,664 L323.5,664.4 L322.4,664.9 L321.1,665.4 L319.7,665.9 L318.2,666.6 L316.7,667.2 L315.3,667.9 L313.9,668.6 L312.6,669.4 L311.4,670.1 L310.3,670.9 L309.2,671.7 L308.1,672.5 L307,673.3 L306,674.2 L305,675.1 L304,676 L303.1,676.9 L302.1,677.9 L301.2,678.9 L300.3,679.9 L299.4,680.9 L298.5,682 L297.6,683 L296.8,684.1 L296,685.2 L295.2,686.3 L294.4,687.4 L293.7,688.5 L293,689.5 L292.3,690.6 L291.6,691.7 L291,692.8 L290.3,693.9 L289.7,695.1 L289.1,696.2 L288.6,697.3 L288.1,698.5 L287.7,699.6 L287.3,700.8 L286.9,701.9 L286.6,703 L286.3,704.2 L286.1,705.3 L285.9,706.4 L285.8,707.5 L285.6,708.7 L285.5,709.8 L285.5,710.9 L285.4,712 L285.5,713.2 L285.5,714.4 L285.6,715.5 L285.7,716.6 L285.9,717.8 L286,718.9 L286.2,719.9 L286.4,721 L286.6,722 L286.8,723 L287.1,724 L287.3,724.9 L287.6,725.9 L287.9,726.8 L288.3,727.7 L288.7,728.6 L289.1,729.6 L289.5,730.5 L290,731.4 L290.6,732.4 L291.2,733.4 L292,734.4 L292.7,735.4 L293.4,736.3 L294.1,737.2 L294.8,738 L295.4,738.8 L295.9,739.3 L296.2,739.8 L300.8,736.2 L300.4,735.7 L299.9,735.1 L299.3,734.4 L298.6,733.6 L298,732.7 L297.3,731.9 L296.6,731 L296,730.1 L295.4,729.3 L295,728.6 L294.6,727.9 L294.3,727.1 L293.9,726.4 L293.6,725.7 L293.3,724.9 L293.1,724.1 L292.8,723.3 L292.6,722.5 L292.4,721.7 L292.2,720.8 L292,719.9 L291.8,718.9 L291.6,718 L291.5,717 L291.3,716 L291.2,715 L291.2,714 L291.1,713 L291.1,712.1 L291.1,711.1 L291.2,710.2 L291.2,709.2 L291.4,708.2 L291.5,707.3 L291.6,706.3 L291.8,705.4 L292.1,704.4 L292.3,703.5 L292.6,702.5 L292.9,701.6 L293.3,700.6 L293.7,699.6 L294.2,698.6 L294.7,697.6 L295.2,696.6 L295.8,695.6 L296.4,694.6 L297,693.6 L297.7,692.6 L298.3,691.5 L299,690.5 L299.7,689.5 L300.4,688.5 L301.2,687.5 L302,686.5 L302.8,685.5 L303.6,684.5 L304.4,683.5 L305.2,682.6 L306.1,681.7 L306.9,680.9 L307.8,680 L308.7,679.2 L309.6,678.4 L310.5,677.6 L311.5,676.8 L312.4,676.1 L313.4,675.4 L314.4,674.7 L315.4,674 L316.5,673.4 L317.7,672.8 L319,672.2 L320.4,671.5 L321.8,670.9 L323.1,670.4 L324.4,669.9 L325.5,669.4 L326.5,669 L327.3,668.7 Z" fill="#0a0af2"/>
<path d="M333.6,753.4 L290.6,755.5 L303.3,724.5 Z" fill="#0a0af2"/>
<path d="M510.4,666.5 L509.7,666.8 L508.8,667.1 L507.7,667.6 L506.5,668.1 L505.2,668.6 L503.8,669.2 L502.4,669.9 L501.1,670.6 L499.7,671.2 L498.5,672 L497.4,672.7 L496.4,673.4 L495.3,674.2 L494.3,675 L493.3,675.8 L492.3,676.6 L491.4,677.5 L490.4,678.4 L489.4,679.3 L488.5,680.2 L487.6,681.2 L486.6,682.2 L485.6,683.2 L484.7,684.2 L483.8,685.3 L482.8,686.4 L481.9,687.5 L481.1,688.7 L480.2,689.8 L479.5,691 L478.7,692.2 L478,693.4 L477.3,694.7 L476.6,696 L475.9,697.3 L475.3,698.6 L474.8,699.8 L474.3,701.1 L473.8,702.2 L473.3,703.4 L473,704.4 L472.6,705.5 L472.3,706.4 L472.1,707.4 L471.9,708.4 L471.7,709.3 L471.6,710.2 L471.5,711.1 L471.4,712 L471.3,712.9 L471.3,713.8 L471.3,714.8 L471.3,715.7 L471.4,716.6 L471.5,717.5 L471.7,718.3 L471.8,719.2 L472,720.1 L472.2,720.9 L472.3,721.8 L472.6,722.7 L472.8,723.7 L473,724.6 L473.3,725.6 L473.6,726.5 L473.9,727.5 L474.2,728.4 L474.5,729.4 L474.9,730.3 L475.2,731.2 L475.6,732.1 L475.9,733 L476.3,733.9 L476.7,734.7 L477.1,735.6 L477.5,736.5 L478,737.4 L478.5,738.2 L479,739.1 L479.6,739.9 L480.2,740.7 L480.9,741.5 L481.7,742.2 L482.5,743 L483.3,743.6 L484.1,744.3 L484.8,744.8 L485.4,745.3 L485.9,745.7 L486.2,746.1 L488.8,743.1 L488.4,742.8 L487.8,742.3 L487.2,741.8 L486.5,741.3 L485.8,740.7 L485.1,740.1 L484.4,739.4 L483.7,738.8 L483.1,738.1 L482.6,737.5 L482.2,736.9 L481.8,736.2 L481.3,735.5 L480.9,734.8 L480.6,734 L480.2,733.2 L479.8,732.3 L479.5,731.5 L479.1,730.6 L478.8,729.8 L478.5,728.9 L478.1,728.1 L477.8,727.2 L477.5,726.3 L477.2,725.4 L477,724.5 L476.7,723.6 L476.5,722.7 L476.3,721.8 L476.1,721 L475.9,720.1 L475.7,719.3 L475.5,718.5 L475.4,717.7 L475.3,716.9 L475.2,716.2 L475.1,715.4 L475.1,714.6 L475.1,713.9 L475.1,713.1 L475.1,712.3 L475.2,711.5 L475.3,710.7 L475.4,709.9 L475.6,709.1 L475.7,708.3 L475.9,707.4 L476.2,706.6 L476.5,705.6 L476.9,704.6 L477.3,703.6 L477.7,702.5 L478.2,701.3 L478.7,700.1 L479.3,698.9 L479.9,697.7 L480.5,696.5 L481.2,695.3 L481.9,694.1 L482.5,693 L483.3,691.9 L484,690.9 L484.9,689.8 L485.7,688.7 L486.6,687.7 L487.5,686.7 L488.4,685.7 L489.3,684.7 L490.2,683.7 L491.1,682.8 L492,681.9 L492.9,681 L493.8,680.2 L494.7,679.4 L495.6,678.6 L496.6,677.8 L497.5,677.1 L498.5,676.4 L499.5,675.7 L500.5,675 L501.5,674.4 L502.7,673.8 L504,673.2 L505.3,672.5 L506.6,672 L507.9,671.4 L509.1,670.9 L510.2,670.5 L511.1,670.1 L511.8,669.7 Z" fill="#0a0af2"/>
<path d="M511.5,753.4 L485.5,754.3 L491.5,736.1 Z" fill="#0a0af2"/>
<path d="M65,824 L65.6,824 L66.3,824 L67.1,824.1 L68.1,824.1 L69.2,824.2 L70.3,824.2 L71.4,824.2 L72.6,824.2 L73.7,824.2 L74.7,824.1 L75.7,824.1 L76.7,824 L77.7,823.9 L78.6,823.7 L79.5,823.6 L80.5,823.4 L81.4,823.2 L82.3,823 L83.3,822.8 L84.2,822.6 L85.1,822.4 L86,822.1 L86.9,821.8 L87.8,821.5 L88.7,821.2 L89.5,820.9 L90.4,820.6 L91.3,820.2 L92.2,819.8 L93,819.4 L93.9,819 L94.7,818.5 L95.6,818.1 L96.4,817.6 L97.2,817.1 L98,816.6 L98.8,816 L99.6,815.5 L100.4,814.9 L101.2,814.2 L102,813.6 L102.8,812.9 L103.6,812.2 L104.3,811.5 L105.1,810.7 L105.8,810 L106.5,809.2 L107.3,808.4 L108,807.7 L108.7,806.9 L109.4,806 L110.2,805.2 L110.9,804.3 L111.7,803.4 L112.4,802.5 L113.1,801.5 L113.8,800.6 L114.5,799.7 L115.1,798.9 L115.8,798 L116.4,797.1 L117,796.2 L117.6,795.3 L118.2,794.4 L118.7,793.6 L119.2,792.8 L119.7,792 L120.1,791.4 L120.4,790.9 L120.6,790.5 L114.4,786.5 L114.1,787 L113.7,787.6 L113.3,788.2 L112.9,789 L112.4,789.7 L112,790.6 L111.4,791.4 L110.9,792.2 L110.4,793 L109.8,793.8 L109.3,794.6 L108.7,795.4 L108,796.3 L107.4,797.1 L106.7,798 L106,798.9 L105.3,799.7 L104.6,800.6 L104,801.4 L103.3,802.1 L102.6,802.9 L102,803.6 L101.3,804.4 L100.7,805.1 L100,805.7 L99.4,806.4 L98.7,807 L98.1,807.6 L97.4,808.2 L96.8,808.8 L96.1,809.3 L95.5,809.8 L94.8,810.3 L94.1,810.8 L93.4,811.2 L92.8,811.6 L92.1,812 L91.4,812.4 L90.7,812.8 L90,813.2 L89.2,813.5 L88.5,813.9 L87.8,814.2 L87.1,814.5 L86.3,814.8 L85.6,815 L84.8,815.3 L84,815.5 L83.2,815.8 L82.4,816 L81.6,816.2 L80.8,816.4 L80,816.6 L79.2,816.8 L78.4,816.9 L77.6,817 L76.8,817.2 L75.9,817.3 L75.1,817.4 L74.3,817.5 L73.4,817.5 L72.5,817.5 L71.4,817.5 L70.4,817.5 L69.3,817.5 L68.3,817.5 L67.4,817.5 L66.5,817.4 L65.8,817.4 L65.2,817.4 Z" fill="#fb0707"/>
<path d="M140.6,754.8 L94.6,782 L128.4,807.2 Z" fill="#fb0707"/>
<path d="M253,815.3 L253.5,815.3 L254.1,815.4 L254.9,815.4 L255.8,815.4 L256.7,815.5 L257.7,815.5 L258.7,815.6 L259.7,815.6 L260.7,815.6 L261.6,815.5 L262.4,815.5 L263.2,815.5 L264,815.4 L264.8,815.4 L265.6,815.3 L266.4,815.2 L267.3,815.1 L268.1,814.9 L269,814.7 L269.9,814.4 L270.8,814.1 L271.8,813.7 L272.7,813.2 L273.7,812.8 L274.6,812.3 L275.6,811.7 L276.5,811.2 L277.4,810.6 L278.3,810 L279.3,809.4 L280.1,808.7 L281,808.1 L281.8,807.4 L282.7,806.7 L283.5,806 L284.4,805.3 L285.2,804.5 L286,803.7 L286.9,802.9 L287.8,802 L288.6,801.1 L289.5,800.2 L290.5,799.2 L291.4,798.2 L292.3,797.2 L293.2,796.1 L294.2,795.1 L295.1,794 L296,792.9 L296.9,791.9 L297.7,790.8 L298.7,789.7 L299.6,788.5 L300.5,787.4 L301.3,786.2 L302.2,785.1 L303,784 L303.8,783 L304.5,782 L305.2,781.2 L305.8,780.4 L306.4,779.6 L307,778.9 L307.5,778.3 L308,777.7 L308.4,777.1 L308.8,776.6 L309.2,776.2 L309.5,775.8 L309.7,775.5 L307.5,773.7 L307.2,774 L306.9,774.4 L306.6,774.8 L306.2,775.3 L305.7,775.9 L305.3,776.5 L304.8,777.2 L304.2,777.9 L303.6,778.6 L303,779.4 L302.3,780.3 L301.6,781.3 L300.8,782.3 L300,783.4 L299.1,784.5 L298.2,785.7 L297.4,786.8 L296.5,788 L295.6,789.1 L294.7,790.1 L293.9,791.2 L293,792.2 L292.1,793.3 L291.2,794.3 L290.3,795.4 L289.4,796.4 L288.5,797.4 L287.6,798.3 L286.7,799.3 L285.8,800.2 L285,801 L284.2,801.8 L283.4,802.6 L282.6,803.3 L281.8,804 L281,804.7 L280.2,805.4 L279.4,806 L278.6,806.6 L277.7,807.2 L276.9,807.8 L276,808.4 L275.1,809 L274.3,809.5 L273.4,810 L272.5,810.5 L271.6,810.9 L270.7,811.3 L269.9,811.7 L269.1,812 L268.3,812.3 L267.6,812.5 L266.8,812.6 L266.1,812.7 L265.3,812.8 L264.6,812.9 L263.8,812.9 L263.1,813 L262.3,813 L261.4,813.1 L260.6,813.1 L259.7,813.1 L258.7,813.1 L257.8,813.1 L256.8,813.1 L255.9,813 L255,813 L254.2,812.9 L253.6,812.9 L253,812.9 Z" fill="#fb0707"/>
<path d="M319.4,760.9 L302.1,770.7 L314.5,780.3 Z" fill="#fb0707"/>
<path d="M438.1,824 L438.7,824 L439.4,824 L440.2,824.1 L441.2,824.1 L442.3,824.2 L443.4,824.2 L444.5,824.2 L445.7,824.2 L446.8,824.2 L447.8,824.1 L448.8,824.1 L449.8,824 L450.8,823.9 L451.7,823.7 L452.6,823.6 L453.6,823.4 L454.5,823.2 L455.4,823 L456.4,822.8 L457.3,822.6 L458.2,822.4 L459.1,822.1 L460,821.8 L460.9,821.5 L461.8,821.2 L462.6,820.9 L463.5,820.6 L464.4,820.2 L465.3,819.8 L466.1,819.4 L467,819 L467.8,818.5 L468.7,818.1 L469.5,817.6 L470.3,817.1 L471.1,816.6 L471.9,816 L472.7,815.5 L473.5,814.9 L474.3,814.2 L475.1,813.6 L475.9,812.9 L476.7,812.2 L477.4,811.5 L478.2,810.7 L478.9,810 L479.6,809.2 L480.4,808.4 L481.1,807.7 L481.8,806.9 L482.5,806 L483.3,805.2 L484,804.3 L484.8,803.4 L485.5,802.5 L486.2,801.5 L486.9,800.6 L487.6,799.7 L488.2,798.9 L488.9,798 L489.5,797.1 L490.1,796.2 L490.7,795.3 L491.3,794.4 L491.8,793.6 L492.3,792.8 L492.8,792 L493.2,791.4 L493.5,790.9 L493.7,790.5 L487.5,786.5 L487.2,787 L486.8,787.6 L486.4,788.2 L486,789 L485.5,789.7 L485.1,790.6 L484.5,791.4 L484,792.2 L483.5,793 L482.9,793.8 L482.4,794.6 L481.8,795.4 L481.1,796.3 L480.5,797.1 L479.8,798 L479.1,798.9 L478.4,799.7 L477.7,800.6 L477.1,801.4 L476.4,802.1 L475.7,802.9 L475.1,803.6 L474.4,804.4 L473.8,805.1 L473.1,805.7 L472.5,806.4 L471.8,807 L471.2,807.6 L470.5,808.2 L469.9,808.8 L469.2,809.3 L468.6,809.8 L467.9,810.3 L467.2,810.8 L466.5,811.2 L465.9,811.6 L465.2,812 L464.5,812.4 L463.8,812.8 L463.1,813.2 L462.3,813.5 L461.6,813.9 L460.9,814.2 L460.2,814.5 L459.4,814.8 L458.7,815 L457.9,815.3 L457.1,815.5 L456.3,815.8 L455.5,816 L454.7,816.2 L453.9,816.4 L453.1,816.6 L452.3,816.8 L451.5,816.9 L450.7,817 L449.9,817.2 L449,817.3 L448.2,817.4 L447.4,817.5 L446.5,817.5 L445.6,817.5 L444.5,817.5 L443.5,817.5 L442.4,817.5 L441.4,817.5 L440.5,817.5 L439.6,817.4 L438.9,817.4 L438.3,817.4 Z" fill="#fb0707"/>
<path d="M513.6,755.1 L467.7,782 L501.5,807.2 Z" fill="#fb0707"/>
<text x="145.3" y="650.8" font-size="17.9" fill="#0d0d0d" stroke="#0d0d0d" stroke-width="0.3" transform="translate(0,55.31) scale(1,0.915)">Cold vortex</text>
<text x="389.7" y="740.1" font-size="17.9" fill="#0d0d0d" stroke="#0d0d0d" stroke-width="0.3" transform="translate(0,62.91) scale(1,0.915)">Cold air</text>
<path d="M383,739.2 L336.7,745.3" stroke="#0d0d0d" stroke-width="1.9" fill="none"/>
<path d="M348,738.8 L338.9,745 L349.3,748.7" fill="none" stroke="#0d0d0d" stroke-width="2.4" stroke-linejoin="miter" stroke-linecap="butt"/>
<text x="153.6" y="803.8" font-size="17.9" fill="#0d0d0d" stroke="#0d0d0d" stroke-width="0.3" transform="translate(0,68.32) scale(1,0.915)">WNPSH</text>
<text x="157.6" y="860.1" font-size="17.9" fill="#0d0d0d" stroke="#0d0d0d" stroke-width="0.3" transform="translate(0,73.11) scale(1,0.915)">Low-level</text>
<text x="136.5" y="879.5" font-size="17.9" fill="#0d0d0d" stroke="#0d0d0d" stroke-width="0.3" transform="translate(0,74.76) scale(1,0.915)">warm moisture</text>
<path d="M151.8,859.2 L119.8,811.5" stroke="#0d0d0d" stroke-width="1.9" fill="none"/>
<path d="M130.7,818.7 L121.1,813.4 L122.4,824.3" fill="none" stroke="#0d0d0d" stroke-width="2.4" stroke-linejoin="miter" stroke-linecap="butt"/>
<path d="M246.1,865.6 L263.4,820.7" stroke="#0d0d0d" stroke-width="1.9" fill="none"/>
<path d="M263.7,833.7 L262.6,822.8 L254.4,830.1" fill="none" stroke="#0d0d0d" stroke-width="2.4" stroke-linejoin="miter" stroke-linecap="butt"/>
<path d="M73.8,919.9C80.7,924.2 100.9,936.9 115,945.5C129.1,954.1 144,963.9 158.4,971.5C172.8,979.1 187.3,986.1 201.7,991C216.1,995.9 230.6,998.8 245,1001C259.4,1003.2 276.1,1003.9 288.4,1004.5C300.7,1005.1 307.9,1005 318.7,1004.5C329.5,1004 340.4,1003.6 353.4,1001.4C366.4,999.1 382.4,995.6 396.8,991C411.2,986.4 425.7,980.2 440.1,973.7C454.6,967.2 469.1,959.2 483.5,952C497.9,944.8 516,935.5 526.8,930.3C537.6,925.1 544.9,922.4 548.5,920.8" fill="none" stroke="#2bc3ea" stroke-width="3.9" stroke-linecap="butt"/>
<path d="M73.8,1133.6C80.7,1130.9 102.3,1122.7 115,1117.5C127.7,1112.3 138.9,1108.5 149.7,1102.4C160.5,1096.3 169.9,1087.9 180,1080.7C190.1,1073.5 200.3,1065.2 210.4,1059C220.5,1052.8 229.9,1048.1 240.7,1043.8C251.5,1039.5 263.8,1035.7 275.4,1033C287,1030.3 298.5,1028.9 310.1,1027.8C321.7,1026.7 334.7,1026 344.8,1026.5C354.9,1027 362.9,1028.4 370.8,1030.8C378.7,1033.2 384.5,1036.1 392.4,1040.8C400.3,1045.5 409.7,1053.8 418.4,1059C427.1,1064.2 433.5,1067.5 444.4,1072C455.2,1076.5 471.2,1081.9 483.5,1085.9C495.8,1090 507.3,1093.4 518.1,1096.3C528.9,1099.2 543.4,1102 548.5,1103.2" fill="none" stroke="#2bc3ea" stroke-width="3.9" stroke-linecap="butt"/>
<text x="641.1" y="641.2" font-size="46" fill="#0d0d0d" letter-spacing="2.5">(d)</text>
<use href="#drop" x="713" y="835.9"/>
<use href="#drop" x="725.3" y="834"/>
<use href="#drop" x="731.9" y="836.2"/>
<use href="#drop" x="739.5" y="831.8"/>
<use href="#drop" x="747.7" y="830.8"/>
<use href="#drop" x="747.7" y="841.6"/>
<use href="#drop" x="716.5" y="848.5"/>
<use href="#drop" x="726.6" y="847.2"/>
<use href="#drop" x="733.5" y="847.2"/>
<use href="#drop" x="740.8" y="848.5"/>
<use href="#drop" x="753.7" y="849.8"/>
<use href="#drop" x="747.7" y="854.8"/>
<use href="#drop" x="720" y="863.6"/>
<use href="#drop" x="726.3" y="859.2"/>
<use href="#drop" x="733.2" y="858"/>
<use href="#drop" x="738.6" y="863.6"/>
<use href="#drop" x="745.2" y="864.3"/>
<use href="#drop" x="753.7" y="864.3"/>
<use href="#house" x="740.1" y="869.3"/>
<use href="#dropS" x="933.6" y="829.6"/>
<use href="#dropS" x="940.9" y="832.7"/>
<use href="#dropS" x="945.3" y="838.4"/>
<use href="#dropS" x="931.4" y="838.1"/>
<use href="#dropS" x="938" y="843.8"/>
<use href="#dropS" x="932" y="851.7"/>
<use href="#dropS" x="938.3" y="853.2"/>
<use href="#dropS" x="945.9" y="852.3"/>
<use href="#dropS" x="945.9" y="860.5"/>
<use href="#dropS" x="932.3" y="863.3"/>
<use href="#dropS" x="939.9" y="865.2"/>
<use href="#house" x="939.9" y="869.3"/>
<use href="#drop" x="1121.7" y="834.6"/>
<use href="#drop" x="1138.7" y="834.6"/>
<use href="#drop" x="1129.9" y="844.7"/>
<use href="#drop" x="1141" y="850.4"/>
<use href="#drop" x="1150.1" y="851"/>
<use href="#drop" x="1122" y="856.7"/>
<use href="#drop" x="1129.9" y="859.2"/>
<use href="#drop" x="1137.5" y="863.6"/>
<use href="#drop" x="1150.1" y="865.5"/>
<use href="#house" x="1135.3" y="869.3"/>
<rect x="710.1" y="884.8" width="178.8" height="14" fill="#fa6cb0" stroke="#3a2420" stroke-width="0.9"/>
<text x="793.2" y="896" font-size="13.2" text-anchor="middle" font-style="italic" fill="#170a26" stroke="#170a26" stroke-width="0.25" letter-spacing="0.3">Stage 1</text>
<rect x="888.9" y="884.8" width="102.9" height="14" fill="#cd89f0" stroke="#3a2420" stroke-width="0.9"/>
<text x="942" y="896" font-size="13.2" text-anchor="middle" font-style="italic" fill="#170a26" stroke="#170a26" stroke-width="0.25" letter-spacing="0.3">Stage 2</text>
<rect x="991.8" y="884.8" width="193.1" height="14" fill="#22ce35" stroke="#3a2420" stroke-width="0.9"/>
<text x="1094.9" y="896" font-size="13.2" text-anchor="middle" font-style="italic" fill="#170a26" stroke="#170a26" stroke-width="0.25" letter-spacing="0.3">Stage 3</text>
<path d="M688.8,910.2 V1015.9 H1213.8" fill="none" stroke="#3a3130" stroke-width="1.7"/>
<path d="M695.7,921.6 L688.8,911 L681.9,921.6" fill="none" stroke="#3a3130" stroke-width="2.3" stroke-linejoin="miter" stroke-linecap="butt"/>
<path d="M1202.5,1022.8 L1213.1,1015.9 L1202.5,1009" fill="none" stroke="#3a3130" stroke-width="2.3" stroke-linejoin="miter" stroke-linecap="butt"/>
<path d="M688.8,1041.5 V1147.3 H1213.8" fill="none" stroke="#3a3130" stroke-width="1.7"/>
<path d="M695.7,1052.9 L688.8,1042.3 L681.9,1052.9" fill="none" stroke="#3a3130" stroke-width="2.3" stroke-linejoin="miter" stroke-linecap="butt"/>
<path d="M1202.5,1154.2 L1213.1,1147.3 L1202.5,1140.4" fill="none" stroke="#3a3130" stroke-width="2.3" stroke-linejoin="miter" stroke-linecap="butt"/>
<text x="640.3" y="968.5" font-size="27" fill="#0d0d0d" stroke="#0d0d0d" stroke-width="0.35">δ<tspan font-size="12.6" dy="4.4" dx="0.6">vapor</tspan></text>
<text x="640" y="1099.3" font-size="24.4" fill="#0d0d0d" stroke="#0d0d0d" stroke-width="0.35">d<tspan font-size="12.6" dy="4.8" dx="1.5">vapor</tspan></text>
<text x="940.2" y="1179.8" font-size="26.2" text-anchor="middle" letter-spacing="1.0" fill="#0d0d0d" stroke="#0d0d0d" stroke-width="0.2">Time</text>
<path d="M758.4,607.3C756.6,610.3 751,619.5 747.5,625.5C744,631.5 740.5,637.2 737.2,643.3C734,649.4 730.9,655.6 728,662C725.1,668.4 722,676.1 719.9,681.5C717.8,686.9 716.4,690.5 715.5,694.5C714.6,698.5 714.6,702.5 714.7,705.8C714.8,709.1 715.1,711.9 716,714.5C716.9,717.1 718,719.4 719.9,721.4C721.8,723.4 724.6,725.2 727.5,726.3C730.4,727.4 733.5,728.1 737.2,727.9C741,727.7 745.7,726.7 750,725.3C754.3,723.9 757.9,722.3 763.2,719.6C768.5,716.9 775.6,713 782,709.3C788.4,705.5 795.9,701 801.4,697.1C806.9,693.2 810.7,689.8 815,686C819.3,682.2 821.8,679.5 827.4,674.5C833,669.5 845,658.9 848.5,655.8" fill="none" stroke="#2c2622" stroke-width="1.5" stroke-linecap="round"/>
<path d="M765.3,622.9C763.9,625.3 759.7,632.6 757,637.5C754.3,642.4 751.7,647.2 749.3,652C746.9,656.8 744.7,661.4 742.7,666C740.7,670.6 738.5,675.8 737.2,679.8C735.9,683.8 735.1,686.8 735,690C734.9,693.2 735.3,696.4 736.3,698.8C737.3,701.2 738.8,703 741,704.5C743.2,706 746.2,707.1 749.3,707.5C752.4,707.9 756,707.5 759.5,706.8C763,706.1 765.8,705.3 770.2,703.2C774.6,701.1 780.8,697.3 786,694C791.2,690.7 796.5,687.1 801.4,683.2C806.3,679.3 810.9,674.8 815.5,670.5C820.1,666.2 826.8,659.4 829.1,657.2" fill="none" stroke="#2c2622" stroke-width="1.5" stroke-linecap="round"/>
<path d="M771.9,637.8C770.8,639.8 767.5,645.7 765.5,649.5C763.5,653.3 761.5,657.3 759.8,660.7C758.1,664.1 756.5,667.1 755.5,670C754.5,672.9 753.8,675.6 753.7,678C753.6,680.4 753.8,682.8 754.8,684.5C755.8,686.2 757.6,687.8 759.8,688.4C762,689 765.1,688.8 768,688.2C770.9,687.6 773.8,686.7 777.1,685C780.4,683.3 784.3,680.4 787.8,677.8C791.3,675.2 794.1,672.5 797.9,669.3C801.7,666.1 808.3,660.4 810.4,658.6" fill="none" stroke="#2c2622" stroke-width="1.5" stroke-linecap="round"/>
<path d="M940.9,607.8C939.1,610.8 933.5,620 930,626C926.5,632 923,637.7 919.7,643.8C916.5,649.9 913.4,656.1 910.5,662.5C907.6,668.9 904.5,676.6 902.4,682C900.3,687.4 898.9,691 898,695C897.1,699 897.1,703 897.2,706.3C897.3,709.6 897.6,712.4 898.5,715C899.4,717.6 900.5,719.9 902.4,721.9C904.3,723.9 907.1,725.7 910,726.8C912.9,727.9 916,728.6 919.7,728.4C923.5,728.2 928.2,727.2 932.5,725.8C936.8,724.4 940.4,722.8 945.7,720.1C951,717.4 958.1,713.5 964.5,709.8C970.9,706 978.4,701.5 983.9,697.6C989.4,693.7 993.2,690.3 997.5,686.5C1001.8,682.7 1004.3,680 1009.9,675C1015.5,670 1027.5,659.4 1031,656.3" fill="none" stroke="#2c2622" stroke-width="1.5" stroke-linecap="round"/>
<path d="M947.8,623.4C946.4,625.8 942.2,633.1 939.5,638C936.8,642.9 934.2,647.8 931.8,652.5C929.4,657.2 927.2,661.9 925.2,666.5C923.2,671.1 921,676.3 919.7,680.3C918.4,684.3 917.6,687.3 917.5,690.5C917.4,693.7 917.8,696.9 918.8,699.3C919.8,701.7 921.3,703.5 923.5,705C925.7,706.5 928.7,707.6 931.8,708C934.9,708.4 938.5,708 942,707.3C945.5,706.6 948.3,705.8 952.7,703.7C957.1,701.6 963.3,697.8 968.5,694.5C973.7,691.2 979,687.6 983.9,683.7C988.8,679.8 993.4,675.3 998,671C1002.6,666.7 1009.3,659.9 1011.6,657.7" fill="none" stroke="#2c2622" stroke-width="1.5" stroke-linecap="round"/>
<path d="M954.4,638.3C953.3,640.2 950,646.2 948,650C946,653.8 944,657.8 942.3,661.2C940.6,664.6 939,667.6 938,670.5C937,673.4 936.3,676.1 936.2,678.5C936.1,680.9 936.3,683.3 937.3,685C938.3,686.7 940.1,688.3 942.3,688.9C944.5,689.5 947.6,689.3 950.5,688.7C953.4,688.1 956.3,687.2 959.6,685.5C962.9,683.8 966.8,680.9 970.3,678.3C973.8,675.7 976.6,673 980.4,669.8C984.2,666.6 990.8,660.9 992.9,659.1" fill="none" stroke="#2c2622" stroke-width="1.5" stroke-linecap="round"/>
<path d="M1137.8,606.8C1136,609.8 1130.4,619 1126.9,625C1123.4,631 1119.8,636.7 1116.6,642.8C1113.3,648.9 1110.3,655.1 1107.4,661.5C1104.5,667.9 1101.4,675.6 1099.3,681C1097.2,686.4 1095.8,690 1094.9,694C1094,698 1094,702 1094.1,705.3C1094.2,708.6 1094.5,711.4 1095.4,714C1096.3,716.6 1097.4,718.9 1099.3,720.9C1101.2,722.9 1104,724.7 1106.9,725.8C1109.8,726.9 1112.8,727.6 1116.6,727.4C1120.3,727.2 1125.1,726.2 1129.4,724.8C1133.7,723.4 1137.3,721.8 1142.6,719.1C1147.9,716.4 1155,712.5 1161.4,708.8C1167.8,705 1175.3,700.5 1180.8,696.6C1186.3,692.7 1190.1,689.3 1194.4,685.5C1198.7,681.7 1201.2,679 1206.8,674C1212.4,669 1224.4,658.4 1227.9,655.3" fill="none" stroke="#2c2622" stroke-width="1.5" stroke-linecap="round"/>
<path d="M1144.7,622.4C1143.3,624.8 1139.1,632.1 1136.4,637C1133.7,641.9 1131.1,646.8 1128.7,651.5C1126.3,656.2 1124.1,660.9 1122.1,665.5C1120.1,670.1 1117.9,675.3 1116.6,679.3C1115.3,683.3 1114.6,686.3 1114.4,689.5C1114.2,692.7 1114.7,695.9 1115.7,698.3C1116.7,700.7 1118.2,702.5 1120.4,704C1122.6,705.5 1125.6,706.6 1128.7,707C1131.8,707.4 1135.4,707 1138.9,706.3C1142.4,705.6 1145.2,704.8 1149.6,702.7C1154,700.6 1160.2,696.8 1165.4,693.5C1170.6,690.2 1175.9,686.6 1180.8,682.7C1185.7,678.8 1190.3,674.3 1194.9,670C1199.5,665.7 1206.2,658.9 1208.5,656.7" fill="none" stroke="#2c2622" stroke-width="1.5" stroke-linecap="round"/>
<path d="M1151.3,637.3C1150.2,639.2 1146.9,645.2 1144.9,649C1142.9,652.8 1140.9,656.8 1139.2,660.2C1137.5,663.6 1135.9,666.6 1134.9,669.5C1133.9,672.4 1133.2,675.1 1133.1,677.5C1133,679.9 1133.2,682.3 1134.2,684C1135.2,685.7 1137,687.3 1139.2,687.9C1141.4,688.5 1144.5,688.3 1147.4,687.7C1150.3,687.1 1153.2,686.2 1156.5,684.5C1159.8,682.8 1163.7,679.9 1167.2,677.3C1170.7,674.7 1173.5,672 1177.3,668.8C1181.1,665.6 1187.7,659.9 1189.8,658.1" fill="none" stroke="#2c2622" stroke-width="1.5" stroke-linecap="round"/>
<path d="M850.9,751.6C847.6,752.5 837.5,755.1 831,756.8C824.5,758.5 818.4,759.9 812.1,761.6C805.8,763.3 798.4,765.3 793.2,767.2C788,769.1 784.5,770.5 780.9,772.9C777.3,775.3 774,778.7 771.5,781.4C769,784.1 767,786.8 765.8,789C764.6,791.2 764.4,792.5 764.4,794.7C764.4,796.9 764.8,799.4 765.8,802.2C766.8,805 768.3,808.6 770.5,811.7C772.7,814.9 775.7,818.3 779,821.1C782.3,823.9 786.4,826.6 790.4,828.7C794.4,830.8 797.5,832.3 802.7,833.9C807.9,835.5 815.3,837 821.6,838.2C827.9,839.4 832.8,840 840.5,841C848.2,842 863.3,843.8 867.9,844.3" fill="none" stroke="#2c2622" stroke-width="1.8" stroke-linecap="round"/>
<path d="M1032.9,752.1C1029.6,753 1019.5,755.6 1013,757.3C1006.5,759 1000.4,760.4 994.1,762.1C987.8,763.8 980.4,765.8 975.2,767.7C970,769.6 966.5,771 962.9,773.4C959.3,775.8 956,779.2 953.5,781.9C951,784.6 949,787.3 947.8,789.5C946.6,791.7 946.4,793 946.4,795.2C946.4,797.4 946.8,799.9 947.8,802.7C948.8,805.5 950.3,809.1 952.5,812.2C954.7,815.4 957.7,818.8 961,821.6C964.3,824.4 968.4,827.1 972.4,829.2C976.4,831.3 979.5,832.8 984.7,834.4C989.9,836 997.3,837.5 1003.6,838.7C1009.9,839.9 1014.8,840.5 1022.5,841.5C1030.2,842.5 1045.3,844.2 1049.9,844.8" fill="none" stroke="#2c2622" stroke-width="1.8" stroke-linecap="round"/>
<path d="M1230.7,750.8C1227.1,751.8 1216.2,754.5 1209,756.5C1201.8,758.5 1194,760.8 1187.7,763C1181.4,765.2 1176.2,767.2 1171,769.5C1165.8,771.8 1160.5,774.2 1156.5,776.8C1152.5,779.4 1149.2,782 1147,785C1144.8,788 1143.7,791.4 1143.5,795C1143.3,798.6 1144.4,802.9 1146,806.5C1147.6,810.1 1149.9,813.6 1153,816.7C1156.1,819.8 1160.2,822.7 1164.5,825.3C1168.8,827.9 1174.4,830.6 1179,832.3C1183.6,834 1187.7,834.7 1192,835.7C1196.3,836.7 1199.3,837.5 1205,838.4C1210.7,839.3 1218.9,840.1 1226,841C1233.1,841.9 1243.9,843.2 1247.5,843.6" fill="none" stroke="#2c2622" stroke-width="1.8" stroke-linecap="round"/>
<path d="M785.8,673.6 L785.1,673.6 L784.2,673.6 L783.1,673.6 L781.9,673.6 L780.6,673.5 L779.2,673.5 L777.8,673.6 L776.4,673.6 L775.1,673.7 L773.8,673.8 L772.7,673.9 L771.5,674.1 L770.4,674.2 L769.4,674.4 L768.3,674.6 L767.1,674.9 L766,675.1 L764.9,675.5 L763.7,675.8 L762.5,676.3 L761.3,676.8 L760.1,677.3 L758.8,677.9 L757.5,678.5 L756.2,679.2 L754.9,679.9 L753.6,680.6 L752.4,681.4 L751.1,682.2 L749.9,683 L748.8,683.8 L747.6,684.7 L746.5,685.6 L745.4,686.5 L744.3,687.4 L743.2,688.4 L742.2,689.4 L741.2,690.4 L740.2,691.3 L739.3,692.3 L738.4,693.3 L737.6,694.3 L736.8,695.3 L736,696.3 L735.3,697.3 L734.6,698.4 L733.9,699.4 L733.3,700.5 L732.7,701.6 L732.1,702.6 L731.6,703.7 L731.1,704.9 L730.6,706 L730.2,707.2 L729.8,708.3 L729.4,709.5 L729.1,710.6 L728.8,711.8 L728.6,713 L728.4,714.1 L728.2,715.3 L728.1,716.4 L728.1,717.6 L728.1,718.7 L728.1,719.8 L728.2,720.9 L728.2,722 L728.4,723.1 L728.5,724.2 L728.7,725.3 L728.9,726.5 L729.1,727.6 L729.4,728.8 L729.8,729.9 L730.1,731 L730.5,732.1 L730.8,733.1 L731.2,734.1 L731.5,735 L731.9,735.9 L732.2,736.7 L732.5,737.5 L732.9,738.3 L733.2,739 L733.5,739.7 L733.8,740.2 L734.1,740.8 L734.4,741.2 L734.6,741.6 L734.7,741.9 L738.3,740.1 L738.1,739.7 L737.9,739.3 L737.6,738.9 L737.4,738.4 L737.1,737.8 L736.8,737.2 L736.4,736.6 L736.1,735.9 L735.8,735.2 L735.5,734.5 L735.2,733.7 L734.9,732.8 L734.6,731.8 L734.2,730.8 L733.9,729.8 L733.5,728.7 L733.2,727.7 L732.9,726.7 L732.7,725.7 L732.5,724.7 L732.4,723.7 L732.2,722.7 L732.1,721.7 L732,720.7 L732,719.7 L732,718.7 L732,717.7 L732,716.7 L732.1,715.7 L732.2,714.7 L732.4,713.7 L732.6,712.6 L732.8,711.6 L733.1,710.5 L733.4,709.5 L733.8,708.4 L734.2,707.4 L734.6,706.4 L735,705.4 L735.5,704.4 L736,703.4 L736.6,702.4 L737.1,701.4 L737.7,700.5 L738.4,699.5 L739.1,698.6 L739.8,697.6 L740.5,696.7 L741.3,695.8 L742.1,694.9 L743,693.9 L743.9,693 L744.8,692.1 L745.8,691.2 L746.8,690.2 L747.8,689.3 L748.8,688.5 L749.9,687.6 L751,686.8 L752.1,686 L753.2,685.3 L754.3,684.6 L755.5,683.8 L756.7,683.1 L757.9,682.5 L759.2,681.8 L760.4,681.2 L761.6,680.7 L762.7,680.2 L763.9,679.7 L764.9,679.3 L766,679 L767,678.7 L768,678.4 L769,678.2 L770,678 L771,677.8 L772,677.7 L773.1,677.5 L774.2,677.4 L775.3,677.3 L776.6,677.2 L777.9,677.2 L779.2,677.2 L780.6,677.2 L781.9,677.2 L783.1,677.2 L784.2,677.2 L785.1,677.2 L785.8,677.2 Z" fill="#0a0af2"/>
<path d="M752.8,754.8 L728.5,747 L743.3,731.2 Z" fill="#0a0af2"/>
<path d="M968.3,673 L967.4,673.1 L966.3,673.1 L964.8,673.1 L963.2,673.2 L961.5,673.3 L959.6,673.4 L957.8,673.5 L955.9,673.6 L954.1,673.9 L952.5,674.1 L950.9,674.4 L949.4,674.8 L947.9,675.2 L946.4,675.6 L945,676.1 L943.6,676.6 L942.2,677.1 L940.8,677.6 L939.4,678.2 L938,678.8 L936.7,679.5 L935.4,680.2 L934.1,680.9 L932.8,681.6 L931.5,682.4 L930.3,683.2 L929.1,684.1 L927.9,684.9 L926.7,685.8 L925.6,686.7 L924.5,687.7 L923.4,688.6 L922.4,689.6 L921.4,690.7 L920.4,691.7 L919.5,692.8 L918.5,693.9 L917.7,694.9 L916.9,696 L916.1,697 L915.3,698.1 L914.6,699.2 L913.9,700.2 L913.3,701.3 L912.6,702.4 L912,703.5 L911.5,704.6 L911,705.8 L910.5,706.9 L910.1,708.1 L909.8,709.2 L909.5,710.5 L909.2,711.6 L909,712.8 L908.9,714 L908.8,715.2 L908.7,716.3 L908.6,717.4 L908.6,718.5 L908.6,719.6 L908.5,720.6 L908.6,721.7 L908.6,722.7 L908.7,723.8 L908.8,724.8 L908.9,725.8 L909,726.8 L909.2,727.8 L909.4,728.8 L909.6,729.8 L909.9,730.8 L910.3,731.9 L910.7,732.9 L911.1,733.9 L911.6,734.9 L912,735.8 L912.4,736.6 L912.7,737.3 L913,737.8 L913.2,738.3 L918.8,735.7 L918.6,735.2 L918.3,734.6 L917.9,733.9 L917.6,733.1 L917.2,732.3 L916.8,731.4 L916.4,730.6 L916.1,729.7 L915.8,729 L915.6,728.2 L915.4,727.5 L915.2,726.7 L915.1,725.8 L915,725 L914.8,724.1 L914.8,723.3 L914.7,722.4 L914.7,721.5 L914.6,720.6 L914.6,719.6 L914.7,718.7 L914.7,717.7 L914.8,716.7 L914.8,715.7 L914.9,714.7 L915,713.7 L915.2,712.7 L915.4,711.8 L915.6,710.9 L915.9,709.9 L916.2,709 L916.6,708.1 L917,707.2 L917.4,706.2 L917.9,705.3 L918.4,704.4 L919,703.4 L919.6,702.5 L920.3,701.5 L920.9,700.6 L921.6,699.6 L922.4,698.6 L923.2,697.7 L924,696.7 L924.8,695.7 L925.7,694.8 L926.6,693.9 L927.5,693 L928.4,692.1 L929.4,691.3 L930.4,690.5 L931.4,689.7 L932.5,688.9 L933.6,688.2 L934.7,687.4 L935.8,686.7 L937,686 L938.2,685.4 L939.4,684.8 L940.6,684.2 L941.8,683.6 L943,683.1 L944.3,682.6 L945.6,682.1 L946.8,681.6 L948.2,681.2 L949.5,680.8 L950.8,680.5 L952.2,680.2 L953.5,679.9 L955,679.6 L956.5,679.4 L958.2,679.3 L960,679.2 L961.7,679.1 L963.4,679 L965,678.9 L966.5,678.9 L967.7,678.8 L968.7,678.8 Z" fill="#0a0af2"/>
<path d="M940.7,761 L901.2,747 L925.1,722.7 Z" fill="#0a0af2"/>
<path d="M1165.6,671.2 L1164.8,671.2 L1163.8,671.1 L1162.6,671.1 L1161.2,671 L1159.7,671 L1158.1,670.9 L1156.4,670.9 L1154.8,670.9 L1153.2,671 L1151.6,671.1 L1150.2,671.2 L1148.8,671.4 L1147.4,671.6 L1146.1,671.8 L1144.7,672.1 L1143.3,672.4 L1141.9,672.7 L1140.5,673.1 L1139.1,673.5 L1137.7,674 L1136.3,674.6 L1135,675.2 L1133.6,675.8 L1132.3,676.5 L1131,677.2 L1129.7,678 L1128.5,678.7 L1127.3,679.5 L1126.1,680.3 L1124.9,681.2 L1123.8,682 L1122.7,683 L1121.6,683.9 L1120.5,684.9 L1119.5,685.8 L1118.5,686.8 L1117.6,687.9 L1116.7,688.9 L1115.8,689.9 L1114.9,690.9 L1114.1,692 L1113.4,693 L1112.6,694.1 L1111.9,695.2 L1111.3,696.3 L1110.7,697.4 L1110.1,698.5 L1109.5,699.6 L1109,700.7 L1108.5,701.9 L1108,703 L1107.6,704.3 L1107.2,705.5 L1106.9,706.7 L1106.5,707.9 L1106.2,709.1 L1106,710.3 L1105.8,711.5 L1105.6,712.7 L1105.4,713.8 L1105.2,715 L1105.1,716.1 L1105.1,717.3 L1105,718.4 L1105,719.5 L1105.1,720.5 L1105.1,721.5 L1105.1,722.5 L1105.2,723.4 L1105.2,724.3 L1105.3,725.3 L1105.4,726.3 L1105.6,727.2 L1105.7,728.1 L1105.9,729 L1106,729.7 L1106.2,730.4 L1106.3,731 L1106.4,731.5 L1106.5,731.8 L1115.1,730.2 L1115,729.7 L1114.9,729.2 L1114.8,728.6 L1114.6,727.9 L1114.5,727.2 L1114.4,726.5 L1114.2,725.8 L1114.1,725.1 L1114,724.4 L1114,723.7 L1113.9,722.9 L1113.9,722 L1113.8,721.2 L1113.8,720.3 L1113.8,719.4 L1113.8,718.5 L1113.8,717.6 L1113.8,716.8 L1113.9,715.9 L1114,715 L1114.1,714 L1114.3,713.1 L1114.5,712 L1114.7,711 L1115,710 L1115.2,709 L1115.5,708 L1115.8,707 L1116.1,706.1 L1116.5,705.1 L1116.9,704.2 L1117.3,703.3 L1117.8,702.4 L1118.2,701.5 L1118.7,700.6 L1119.3,699.7 L1119.8,698.8 L1120.4,698 L1121,697.1 L1121.7,696.3 L1122.4,695.4 L1123.1,694.5 L1123.9,693.7 L1124.7,692.8 L1125.5,691.9 L1126.4,691.1 L1127.3,690.3 L1128.2,689.5 L1129.1,688.7 L1130.1,688 L1131,687.3 L1132.1,686.6 L1133.1,685.9 L1134.2,685.2 L1135.2,684.6 L1136.3,684 L1137.4,683.4 L1138.5,682.9 L1139.6,682.4 L1140.7,682 L1141.8,681.6 L1142.9,681.2 L1144,680.9 L1145.2,680.6 L1146.3,680.4 L1147.5,680.2 L1148.7,680 L1149.9,679.8 L1151.2,679.6 L1152.4,679.5 L1153.6,679.4 L1155,679.4 L1156.4,679.3 L1157.9,679.4 L1159.4,679.4 L1160.9,679.4 L1162.2,679.5 L1163.5,679.5 L1164.6,679.6 L1165.4,679.6 Z" fill="#0a0af2"/>
<path d="M1144,764.5 L1088.5,745 L1119.7,711 Z" fill="#0a0af2"/>
<path d="M695.3,824.5 L695.9,824.5 L696.6,824.5 L697.4,824.6 L698.4,824.6 L699.5,824.7 L700.6,824.7 L701.7,824.7 L702.9,824.7 L704,824.7 L705,824.6 L706,824.6 L707,824.5 L708,824.4 L708.9,824.2 L709.8,824.1 L710.8,823.9 L711.7,823.7 L712.6,823.5 L713.6,823.3 L714.5,823.1 L715.4,822.9 L716.3,822.6 L717.2,822.3 L718.1,822 L719,821.7 L719.8,821.4 L720.7,821.1 L721.6,820.7 L722.5,820.3 L723.3,819.9 L724.2,819.5 L725,819 L725.9,818.6 L726.7,818.1 L727.5,817.6 L728.3,817.1 L729.1,816.5 L729.9,816 L730.7,815.4 L731.5,814.7 L732.3,814.1 L733.1,813.4 L733.9,812.7 L734.6,812 L735.4,811.2 L736.1,810.5 L736.8,809.7 L737.6,808.9 L738.3,808.2 L739,807.4 L739.7,806.5 L740.5,805.7 L741.2,804.8 L742,803.9 L742.7,803 L743.4,802 L744.1,801.1 L744.8,800.2 L745.4,799.4 L746.1,798.5 L746.7,797.6 L747.3,796.7 L747.9,795.8 L748.5,794.9 L749,794.1 L749.5,793.3 L750,792.5 L750.4,791.9 L750.7,791.4 L750.9,791 L744.7,787 L744.4,787.5 L744,788.1 L743.6,788.7 L743.2,789.5 L742.7,790.2 L742.3,791.1 L741.7,791.9 L741.2,792.7 L740.7,793.5 L740.1,794.3 L739.6,795.1 L739,795.9 L738.3,796.8 L737.7,797.6 L737,798.5 L736.3,799.4 L735.6,800.2 L734.9,801.1 L734.3,801.9 L733.6,802.6 L732.9,803.4 L732.3,804.1 L731.6,804.9 L731,805.6 L730.3,806.2 L729.7,806.9 L729,807.5 L728.4,808.1 L727.7,808.7 L727.1,809.3 L726.4,809.8 L725.8,810.3 L725.1,810.8 L724.4,811.3 L723.7,811.7 L723.1,812.1 L722.4,812.5 L721.7,812.9 L721,813.3 L720.3,813.7 L719.5,814 L718.8,814.4 L718.1,814.7 L717.4,815 L716.6,815.3 L715.9,815.5 L715.1,815.8 L714.3,816 L713.5,816.3 L712.7,816.5 L711.9,816.7 L711.1,816.9 L710.3,817.1 L709.5,817.3 L708.7,817.4 L707.9,817.5 L707.1,817.7 L706.2,817.8 L705.4,817.9 L704.6,818 L703.7,818 L702.8,818 L701.7,818 L700.7,818 L699.6,818 L698.6,818 L697.7,818 L696.8,817.9 L696.1,817.9 L695.5,817.9 Z" fill="#fb0707"/>
<path d="M771,755.1 L724.2,782 L758.9,807.5 Z" fill="#fb0707"/>
<path d="M889.1,815.3 L889.6,815.3 L890.2,815.4 L891,815.4 L891.9,815.4 L892.9,815.5 L893.9,815.5 L894.9,815.6 L895.9,815.6 L896.9,815.6 L897.8,815.5 L898.6,815.5 L899.4,815.5 L900.2,815.4 L901,815.4 L901.8,815.3 L902.6,815.2 L903.5,815.1 L904.3,814.9 L905.2,814.7 L906.1,814.4 L907,814.1 L908,813.7 L908.9,813.2 L909.9,812.8 L910.8,812.3 L911.8,811.7 L912.7,811.2 L913.6,810.6 L914.5,810 L915.5,809.4 L916.3,808.7 L917.2,808.1 L918,807.4 L918.9,806.7 L919.7,806 L920.6,805.3 L921.4,804.5 L922.2,803.7 L923.1,802.9 L924,802 L924.8,801.1 L925.7,800.2 L926.7,799.2 L927.6,798.2 L928.5,797.2 L929.4,796.1 L930.4,795.1 L931.3,794 L932.2,792.9 L933.1,791.9 L933.9,790.8 L934.9,789.7 L935.8,788.5 L936.7,787.4 L937.5,786.2 L938.4,785.1 L939.2,784 L940,783 L940.7,782 L941.4,781.2 L942,780.4 L942.6,779.6 L943.2,778.9 L943.7,778.3 L944.2,777.7 L944.6,777.1 L945,776.6 L945.4,776.2 L945.7,775.8 L945.9,775.5 L943.7,773.7 L943.4,774 L943.1,774.4 L942.8,774.8 L942.4,775.3 L941.9,775.9 L941.5,776.5 L941,777.2 L940.4,777.9 L939.8,778.6 L939.2,779.4 L938.5,780.3 L937.8,781.3 L937,782.3 L936.2,783.4 L935.3,784.5 L934.4,785.7 L933.6,786.8 L932.7,788 L931.8,789.1 L930.9,790.1 L930.1,791.2 L929.2,792.2 L928.3,793.3 L927.4,794.3 L926.5,795.4 L925.6,796.4 L924.7,797.4 L923.8,798.3 L922.9,799.3 L922,800.2 L921.2,801 L920.4,801.8 L919.6,802.6 L918.8,803.3 L918,804 L917.2,804.7 L916.4,805.4 L915.6,806 L914.8,806.6 L913.9,807.2 L913.1,807.8 L912.2,808.4 L911.3,809 L910.5,809.5 L909.6,810 L908.7,810.5 L907.8,810.9 L906.9,811.3 L906.1,811.7 L905.3,812 L904.5,812.3 L903.8,812.5 L903,812.6 L902.3,812.7 L901.5,812.8 L900.8,812.9 L900,812.9 L899.3,813 L898.5,813 L897.6,813.1 L896.8,813.1 L895.9,813.1 L894.9,813.1 L893.9,813.1 L892.9,813.1 L892,813 L891.1,813 L890.3,812.9 L889.7,812.9 L889.1,812.9 Z" fill="#fb0707"/>
<path d="M955.8,760.9 L938.5,770.7 L950.9,780.3 Z" fill="#fb0707"/>
<path d="M1075.8,826.8 L1076.4,826.8 L1077.1,826.9 L1078,826.9 L1079,826.9 L1080.1,827 L1081.2,827 L1082.4,827 L1083.5,827 L1084.7,827 L1085.7,826.9 L1086.6,826.8 L1087.5,826.8 L1088.4,826.6 L1089.3,826.5 L1090.2,826.4 L1091.1,826.2 L1092,826 L1093,825.7 L1094,825.4 L1094.9,825 L1096,824.6 L1097,824.2 L1098.1,823.7 L1099.2,823.2 L1100.2,822.7 L1101.3,822.1 L1102.4,821.5 L1103.5,820.8 L1104.5,820.2 L1105.6,819.5 L1106.6,818.8 L1107.6,818 L1108.6,817.3 L1109.5,816.5 L1110.4,815.7 L1111.4,814.9 L1112.3,814 L1113.1,813.2 L1114,812.4 L1114.8,811.6 L1115.7,810.7 L1116.5,809.9 L1117.3,809.1 L1118.1,808.2 L1118.8,807.4 L1119.6,806.5 L1120.3,805.7 L1121,804.8 L1121.8,803.9 L1122.5,803.1 L1123.2,802.1 L1123.9,801.2 L1124.7,800.1 L1125.4,799.1 L1126.1,798.1 L1126.8,797.1 L1127.5,796.2 L1128.1,795.3 L1128.6,794.5 L1129.1,793.8 L1129.5,793.2 L1129.9,792.6 L1130.3,792.1 L1130.6,791.7 L1130.8,791.2 L1131.1,790.9 L1131.3,790.6 L1131.4,790.3 L1131.6,790.1 L1131.7,789.9 L1127.3,787.1 L1127.2,787.3 L1127,787.6 L1126.8,787.9 L1126.7,788.2 L1126.5,788.5 L1126.2,788.9 L1126,789.3 L1125.7,789.8 L1125.3,790.3 L1124.9,791 L1124.4,791.7 L1123.9,792.5 L1123.3,793.3 L1122.6,794.3 L1122,795.2 L1121.3,796.2 L1120.6,797.2 L1119.9,798.1 L1119.2,799.1 L1118.5,799.9 L1117.9,800.8 L1117.2,801.6 L1116.5,802.5 L1115.8,803.3 L1115.1,804.1 L1114.4,804.9 L1113.6,805.7 L1112.9,806.5 L1112.1,807.3 L1111.4,808 L1110.6,808.8 L1109.7,809.6 L1108.9,810.4 L1108,811.2 L1107.2,812 L1106.3,812.8 L1105.5,813.5 L1104.6,814.2 L1103.7,814.9 L1102.8,815.5 L1101.9,816.1 L1101,816.7 L1100,817.3 L1099,817.8 L1098,818.4 L1097,818.9 L1096,819.4 L1095.1,819.8 L1094.1,820.2 L1093.3,820.6 L1092.4,820.9 L1091.6,821.1 L1090.8,821.4 L1090.1,821.6 L1089.3,821.7 L1088.6,821.9 L1087.8,822 L1087,822.1 L1086.2,822.2 L1085.3,822.3 L1084.4,822.3 L1083.4,822.4 L1082.4,822.4 L1081.3,822.4 L1080.2,822.3 L1079.2,822.3 L1078.2,822.3 L1077.3,822.2 L1076.6,822.2 L1076,822.2 Z" fill="#fb0707"/>
<path d="M1148.2,763.8 L1113.5,784.1 L1139.2,802.8 Z" fill="#fb0707"/>
<text x="774.6" y="632.1" font-size="17.9" fill="#0d0d0d" stroke="#0d0d0d" stroke-width="0.3" transform="translate(0,53.73) scale(1,0.915)">Upper-level trough</text>
<text x="982.8" y="740.1" font-size="17.9" fill="#0d0d0d" stroke="#0d0d0d" stroke-width="0.3" transform="translate(0,62.91) scale(1,0.915)">Cold air</text>
<path d="M1051,734.4 L1097.9,728.3" stroke="#0d0d0d" stroke-width="1.9" fill="none"/>
<path d="M1086.6,734.8 L1095.7,728.6 L1085.3,724.9" fill="none" stroke="#0d0d0d" stroke-width="2.4" stroke-linejoin="miter" stroke-linecap="butt"/>
<text x="784.1" y="803.8" font-size="17.9" fill="#0d0d0d" stroke="#0d0d0d" stroke-width="0.3" transform="translate(0,68.32) scale(1,0.915)">WNPSH</text>
<text x="794.5" y="860.1" font-size="17.9" fill="#0d0d0d" stroke="#0d0d0d" stroke-width="0.3" transform="translate(0,73.11) scale(1,0.915)">Low-level</text>
<text x="773.3" y="879.5" font-size="17.9" fill="#0d0d0d" stroke="#0d0d0d" stroke-width="0.3" transform="translate(0,74.76) scale(1,0.915)">warm moisture</text>
<path d="M788.4,859.2 L757.1,813.2" stroke="#0d0d0d" stroke-width="1.9" fill="none"/>
<path d="M768,820.4 L758.4,815.1 L759.7,826" fill="none" stroke="#0d0d0d" stroke-width="2.4" stroke-linejoin="miter" stroke-linecap="butt"/>
<path d="M882.4,865.6 L899.7,820.7" stroke="#0d0d0d" stroke-width="1.9" fill="none"/>
<path d="M900,833.7 L898.9,822.8 L890.7,830.1" fill="none" stroke="#0d0d0d" stroke-width="2.4" stroke-linejoin="miter" stroke-linecap="butt"/>
<path d="M711.1,917.3C715.6,920.5 727.7,929.9 738,936.8C748.3,943.7 761.1,951.6 772.7,958.5C784.3,965.4 795.9,972.4 807.4,978C818.9,983.6 831.2,988.4 842,991.9C852.8,995.4 860.8,997.2 872.4,998.8C884,1000.4 895.5,1000.8 911.4,1001.4C927.3,1002 947.6,1002.4 967.8,1002.7C988,1003 1007.5,1003.2 1032.8,1003.2C1058.1,1003.2 1094.2,1002.9 1119.5,1002.7C1144.8,1002.6 1173.7,1002.4 1184.5,1002.3" fill="none" stroke="#2bc3ea" stroke-width="3.9" stroke-linecap="butt"/>
<path d="M711.1,1134C714.1,1130.2 722.6,1118.4 729.3,1111C735.9,1103.6 743.8,1095.9 751,1089.4C758.2,1082.9 764.8,1077.4 772.7,1072C780.7,1066.6 789.3,1061.3 798.7,1056.8C808.1,1052.3 818.9,1048.2 829,1045.1C839.1,1042 848.5,1040.2 859.4,1038.2C870.2,1036.2 881.1,1034.2 894.1,1033C907.1,1031.8 917.9,1031.2 937.4,1030.8C956.9,1030.4 984.4,1030.7 1011.1,1030.4C1037.8,1030.1 1068.9,1029.6 1097.8,1029.1C1126.7,1028.6 1170,1027.7 1184.5,1027.4" fill="none" stroke="#2bc3ea" stroke-width="3.9" stroke-linecap="butt"/>
</svg>
</body></html>
